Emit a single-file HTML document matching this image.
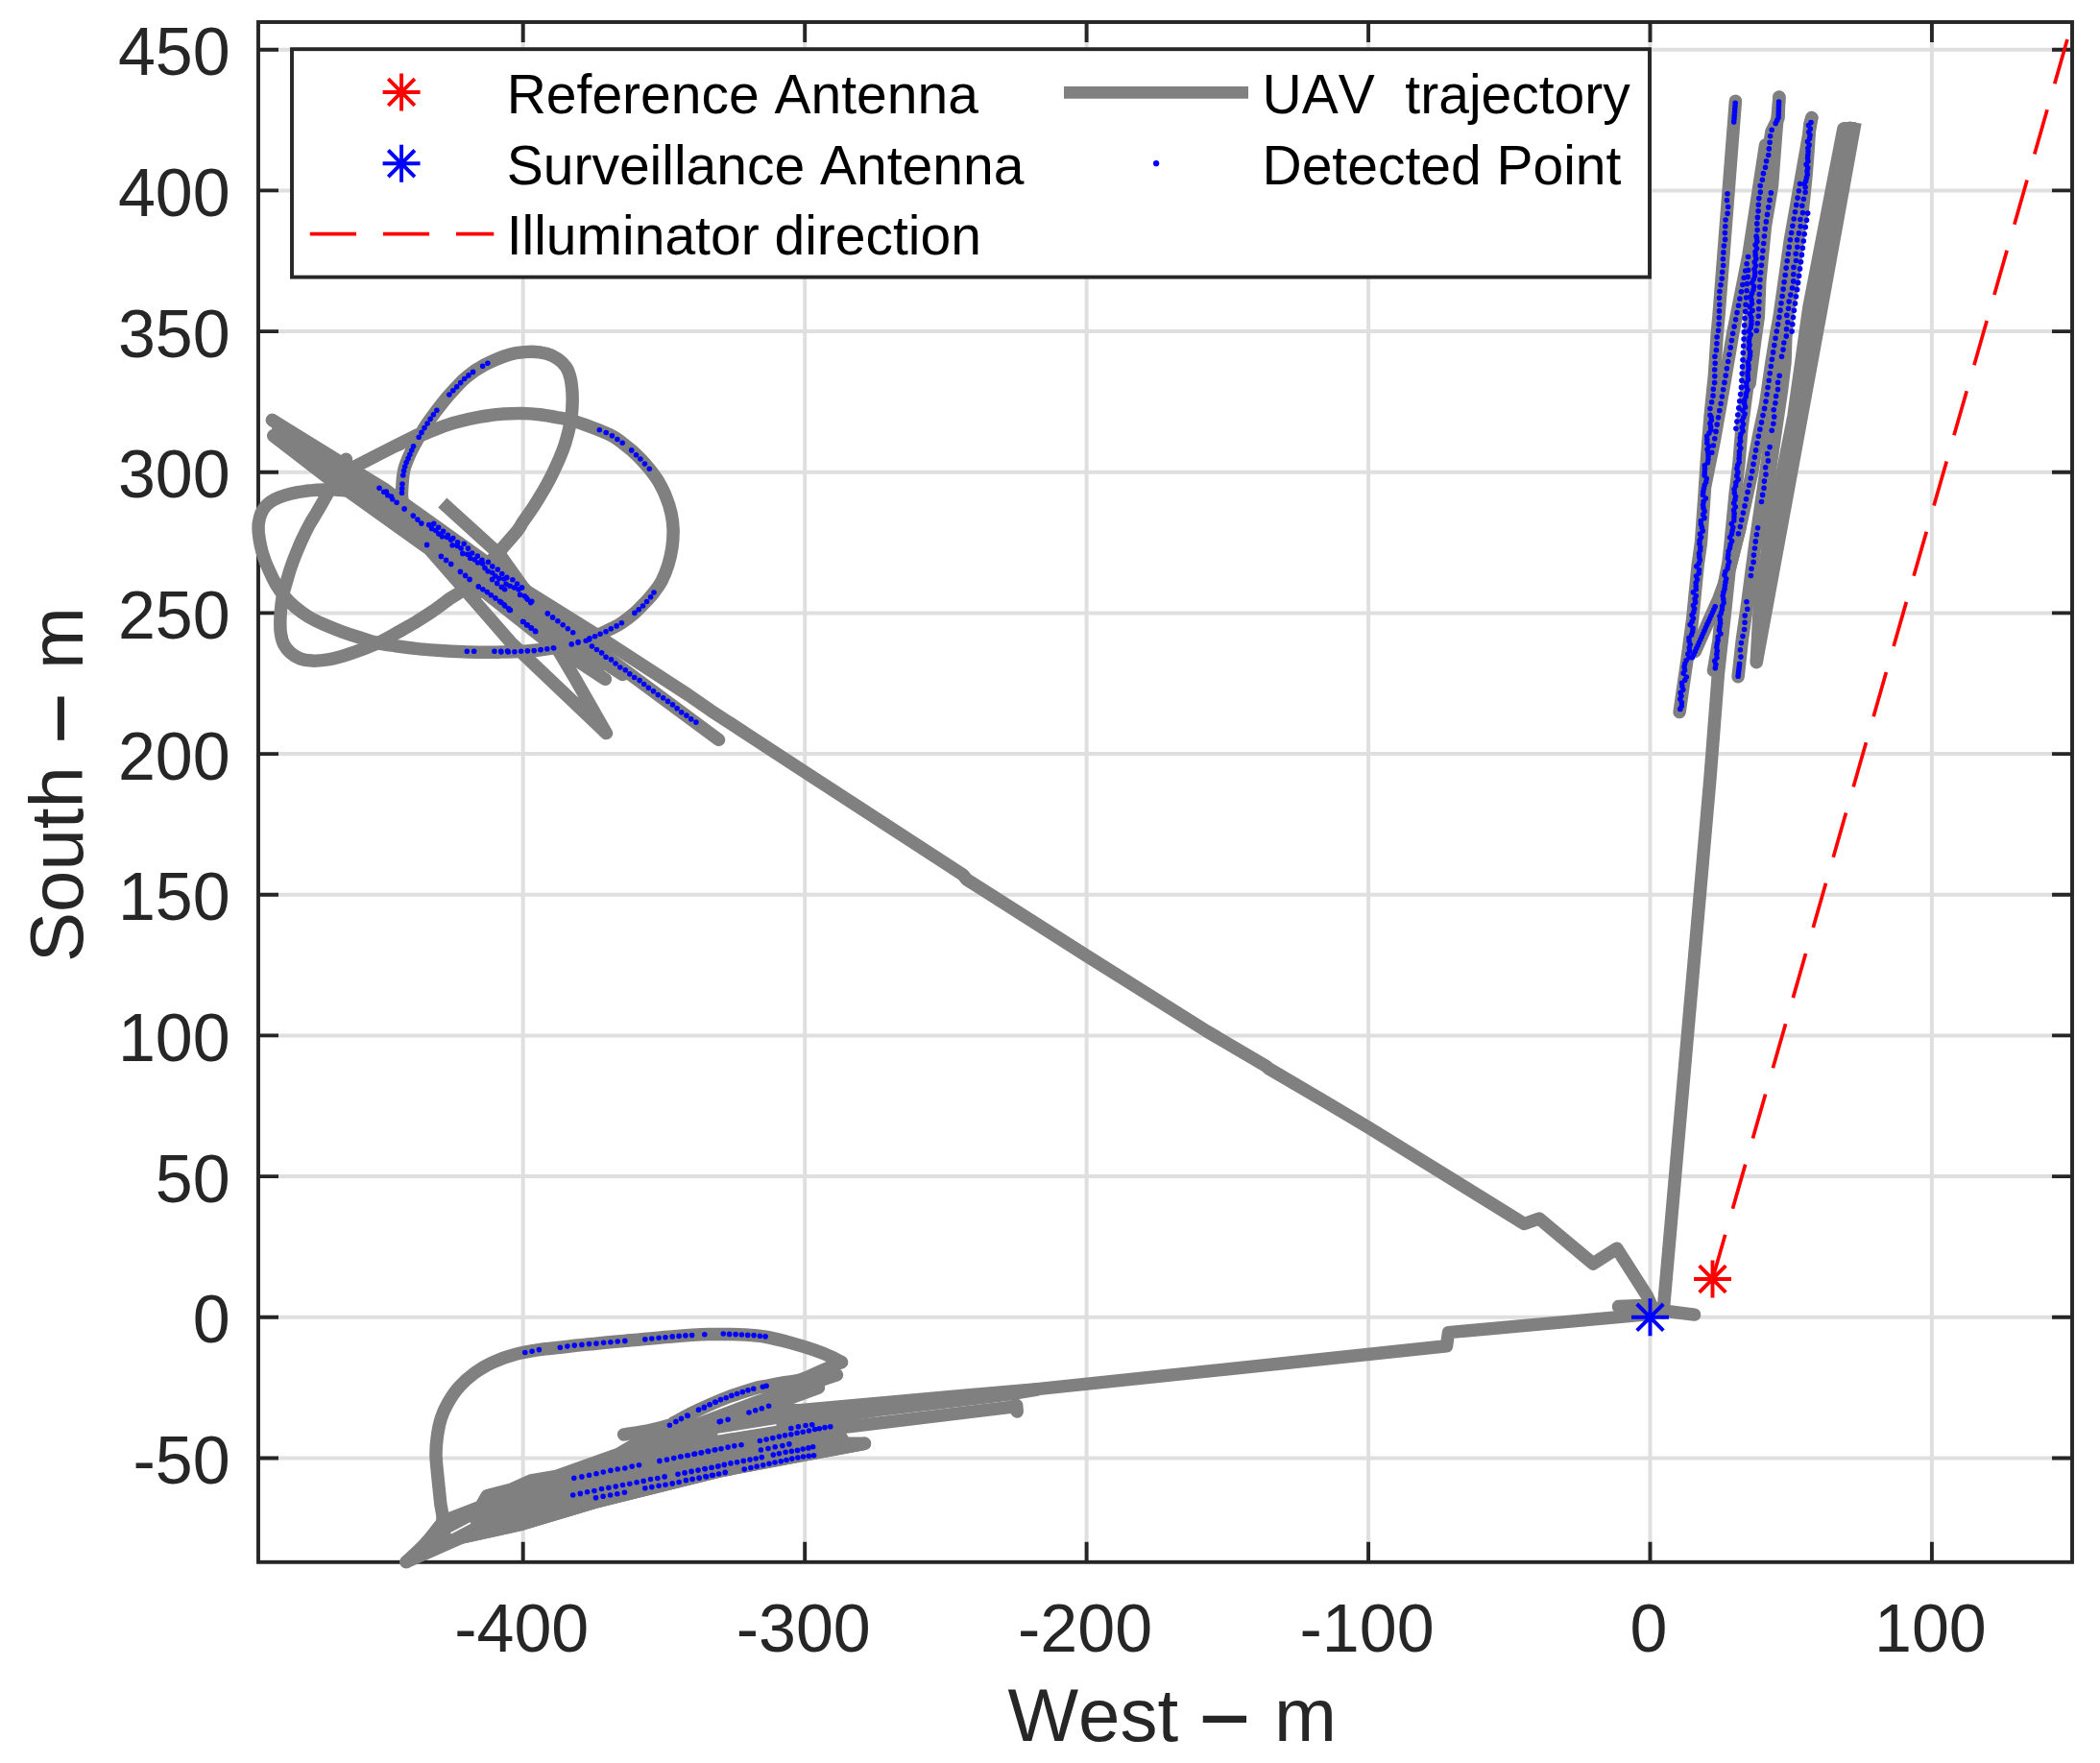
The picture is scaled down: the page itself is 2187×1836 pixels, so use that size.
<!DOCTYPE html>
<html><head><meta charset="utf-8"><title>UAV trajectory</title>
<style>html,body{margin:0;padding:0;background:#fff}svg{display:block}</style></head>
<body>
<svg width="2187" height="1836" viewBox="0 0 2187 1836">
<rect width="2187" height="1836" fill="#fff"/>
<path d="M544.7 23 V1626.8 M838.2 23 V1626.8 M1131.6 23 V1626.8 M1425.1 23 V1626.8 M1718.5 23 V1626.8 M2011.9 23 V1626.8 M269 1518.5 H2158 M269 1371.8 H2158 M269 1225.1 H2158 M269 1078.4 H2158 M269 931.8 H2158 M269 785.1 H2158 M269 638.4 H2158 M269 491.8 H2158 M269 345.1 H2158 M269 198.4 H2158 M269 51.7 H2158" stroke="#dfdfdf" stroke-width="4" fill="none"/>
<path d="M544.7 23 v21 M544.7 1626.8 v-21 M838.2 23 v21 M838.2 1626.8 v-21 M1131.6 23 v21 M1131.6 1626.8 v-21 M1425.1 23 v21 M1425.1 1626.8 v-21 M1718.5 23 v21 M1718.5 1626.8 v-21 M2011.9 23 v21 M2011.9 1626.8 v-21 M269 1518.5 h21 M2158 1518.5 h-21 M269 1371.8 h21 M2158 1371.8 h-21 M269 1225.1 h21 M2158 1225.1 h-21 M269 1078.4 h21 M2158 1078.4 h-21 M269 931.8 h21 M2158 931.8 h-21 M269 785.1 h21 M2158 785.1 h-21 M269 638.4 h21 M2158 638.4 h-21 M269 491.8 h21 M2158 491.8 h-21 M269 345.1 h21 M2158 345.1 h-21 M269 198.4 h21 M2158 198.4 h-21 M269 51.7 h21 M2158 51.7 h-21" stroke="#262626" stroke-width="3.9" fill="none"/>
<rect x="269" y="23" width="1889" height="1603.8" fill="none" stroke="#262626" stroke-width="3.9"/>
<g font-family="'Liberation Sans', sans-serif" font-size="70" fill="#262626" style="font-kerning:none">
<text x="543.2" y="1720" text-anchor="middle">-400</text>
<text x="836.7" y="1720" text-anchor="middle">-300</text>
<text x="1130.1" y="1720" text-anchor="middle">-200</text>
<text x="1423.6" y="1720" text-anchor="middle">-100</text>
<text x="1717" y="1720" text-anchor="middle">0</text>
<text x="2010.4" y="1720" text-anchor="middle">100</text>
<text x="239.7" y="1544.9" text-anchor="end">-50</text>
<text x="239.7" y="1398.2" text-anchor="end">0</text>
<text x="239.7" y="1251.5" text-anchor="end">50</text>
<text x="239.7" y="1104.8" text-anchor="end">100</text>
<text x="239.7" y="958.2" text-anchor="end">150</text>
<text x="239.7" y="811.5" text-anchor="end">200</text>
<text x="239.7" y="664.8" text-anchor="end">250</text>
<text x="239.7" y="518.1" text-anchor="end">300</text>
<text x="239.7" y="371.5" text-anchor="end">350</text>
<text x="239.7" y="224.8" text-anchor="end">400</text>
<text x="239.7" y="78.1" text-anchor="end">450</text>
</g>
<g font-family="'Liberation Sans', sans-serif" font-size="78" fill="#262626" style="font-kerning:none">
<text x="1049.5" y="1813">West<tspan dx="26.5" dy="-2.8" stroke="#262626" stroke-width="1.9">–</tspan><tspan dx="30" dy="2.8">m</tspan></text>
<text transform="translate(86 1002) rotate(-90)">South<tspan dx="28.5" dy="-2.8" stroke="#262626" stroke-width="1.9">–</tspan><tspan dx="29.3" dy="2.8">m</tspan></text>
</g>
<path d="M1783.5 1332 L2153 41" stroke="#ff0000" stroke-width="3.7" stroke-dasharray="48 28.16" fill="none"/>
<g stroke="#808080" stroke-width="13.5" fill="none" stroke-linejoin="round" stroke-linecap="round">
<path d="M362.1 489.7 C365 488.3 372.9 484.4 379.3 481.1 C385.7 477.9 391.4 474.7 400.7 470 C410 465.3 433 453.8 435 452.9 C437 451.9 414.2 463.2 412.5 464.1 C410.8 465.1 420.2 460.5 425 458.5 C429.7 456.6 436 454.4 441.2 452.3 C446.4 450.2 450.5 448.1 456.1 446.1 C461.8 444 467.6 441.8 474.9 439.8 C482.1 437.8 491.5 435.7 499.8 434.2 C508.1 432.7 517.5 431.7 524.8 431.1 C532 430.5 537.2 430.4 543.5 430.5 C549.7 430.6 556 431 562.2 431.7 C568.4 432.4 574.7 433.6 580.9 434.8 C587.2 436 592.6 436.9 599.7 439.1 C606.8 441.2 617.2 445.3 623.5 447.8 C629.9 450.3 633.7 451.9 637.8 454.2 C641.9 456.4 644.9 458.8 648.2 461.3 C651.5 463.8 654.5 466.1 657.7 468.9 C660.9 471.7 664.1 474.8 667.2 478 C670.3 481.2 673.2 484.5 676.3 488.3 C679.3 492.1 682.6 496.3 685.5 501 C688.4 505.8 691.2 511.3 693.4 516.9 C695.7 522.5 697.7 528.6 699 534.4 C700.3 540.2 700.9 545.8 701.1 551.9 C701.2 557.9 700.7 564.8 699.8 570.9 C698.9 577 697.5 582.8 695.8 588.4 C694.1 593.9 691.9 599.5 689.5 604.3 C687 609 684.1 613 681 617 C678 621 674.6 624.5 671.2 628.1 C667.8 631.7 664.8 635 660.9 638.4 C656.9 641.9 651.5 646 647.4 648.8 C643.3 651.5 640 652.9 636.3 654.8 C632.5 656.7 628.8 658.3 625.1 660.2 C621.4 662 617.9 664.5 614 665.9 C610.2 667.3 605.3 667.8 602.1 668.6 C598.9 669.5 599.2 670 594.9 671 C590.7 672 581.8 673.8 576.4 674.8 C571.1 675.7 567.4 676.2 562.9 676.7 C558.4 677.2 553.9 677.5 549.4 677.9 C544.9 678.2 540.5 678.6 535.9 678.8 C531.3 679 526.2 678.9 521.9 679 C517.6 679.1 515.8 679.3 510 679.3 C504.2 679.3 495.1 679.2 487.1 679 C479.1 678.8 470.4 678.3 462.1 677.8 C453.8 677.3 445.5 676.7 437.1 675.9 C428.8 675 419.5 673.8 412.2 672.8 C404.9 671.7 399.7 671.1 393.5 669.6 C387.2 668.2 381 666 374.8 664 C368.5 662.1 362.3 660.1 356.1 657.8 C349.8 655.5 343.2 652.9 337.3 650.3 C331.5 647.7 326.1 645.2 321.1 642.2 C316.1 639.2 311.6 635.7 307.4 632.2 C303.2 628.7 299.5 624.9 296.2 621 C292.8 617 290 612.9 287.4 608.5 C284.8 604.1 282.6 599.4 280.6 594.8 C278.5 590.2 276.5 585.6 275 581.1 C273.4 576.5 272.1 571.7 271.2 567.3 C270.3 563 269.7 558.6 269.3 554.9 C269 551.1 268.9 548.2 269.3 544.9 C269.8 541.6 270.5 538 271.8 534.9 C273.2 531.8 275.1 528.7 277.4 526.2 C279.8 523.7 282.9 521.7 286.2 519.9 C289.5 518.2 293.5 516.8 297.4 515.6 C301.4 514.4 305.3 513.5 309.9 512.7 C314.5 511.9 320.3 511 324.9 510.6 C329.4 510.1 333.2 510 337.3 509.9 C341.5 509.8 345.7 509.7 349.8 509.9 C354 510.2 360.2 511 362.3 511.2"/>
<path d="M418.7 520.9 C418.7 519.7 418.4 516.2 418.5 513.4 C418.5 510.6 418.8 507 419 504.1 C419.2 501.2 419.3 498.7 419.7 496 C420.1 493.3 420.4 490.7 421.2 487.8 C422 485 423.1 482.1 424.3 479.1 C425.5 476.1 426.5 473.6 428.4 469.8 C430.4 465.9 433.6 459.9 435.8 456 C438 452.1 439.6 449.5 441.5 446.3 C443.5 443.1 445.4 440.2 447.7 437.1 C449.9 433.9 451.9 431.3 454.9 427.3 C457.9 423.4 462.6 417.3 465.9 413.4 C469.1 409.5 471.6 407 474.5 403.9 C477.4 400.8 480.2 397.6 483.2 394.9 C486.2 392.2 489.4 389.7 492.6 387.4 C495.8 385.1 500 382.7 502.6 381.2 C505.1 379.7 504.2 380 507.9 378.3 C511.6 376.6 519.9 373 524.8 371.2 C529.7 369.4 532.3 368.5 537.2 367.7 C542.2 366.9 549.5 366.1 554.7 366.2 C559.9 366.3 564.1 366.8 568.4 368.1 C572.8 369.3 577.4 371.3 580.9 373.7 C584.4 376.1 587.5 379.1 589.6 382.4 C591.8 385.7 593 389.5 594 393.6 C595.1 397.8 595.5 403 595.9 407.4 C596.2 411.7 596.2 415.7 596.1 419.9 C596 424 595.8 428 595.3 432.3 C594.7 436.7 593.9 441.1 592.8 446.1 C591.6 451 590.1 457.1 588.4 462.3 C586.7 467.5 585.1 471.8 582.8 477.2 C580.5 482.6 577.5 489.1 574.7 494.7 C571.9 500.3 569.1 505.5 565.9 510.9 C562.8 516.3 559.5 521.7 556 527.1 C552.4 532.6 548.4 538.2 544.7 543.4 C541.1 548.6 543.7 547.3 534.1 558.3 C524.5 569.4 498 598.9 487.1 609.8 C476.1 620.6 474.6 618.9 468.3 623.5 C462.1 628.1 455.9 632.9 449.6 637.2 C443.4 641.5 437.1 645.3 430.9 649.1 C424.7 652.8 418.4 656.2 412.2 659.7 C406 663.1 399.7 666.7 393.5 669.6 C387.2 672.6 381 674.8 374.8 677.1 C368.5 679.4 361.9 681.7 356.1 683.4 C350.2 685 345 686.3 339.8 687.1 C334.6 687.9 329.4 688.3 324.9 688.1 C320.3 687.9 316.1 687.3 312.4 685.9 C308.6 684.4 305.2 682.1 302.4 679.6 C299.6 677.1 297.2 674.2 295.5 670.9 C293.9 667.6 293 663.4 292.4 659.7 C291.8 655.9 291.8 652.4 291.8 648.4 C291.8 644.5 292 640.5 292.4 636 C292.8 631.4 293.4 625.8 294.3 621 C295.2 616.2 296.7 612 298 607.3 C299.4 602.5 300.7 597.3 302.4 592.3 C304.1 587.3 305.9 582.5 308 577.3 C310.1 572.1 312.5 566.3 314.9 561.1 C317.3 555.9 319.9 550.7 322.4 546.1 C324.9 541.6 327 538.5 329.9 533.6 C332.7 528.8 334.3 526.4 339.4 517.1 C344.5 507.9 356.9 484.7 360.4 478.2"/>
<path d="M283.5 437.5 L349.9 482.3 L413.1 523.2 L553.7 626.3 L748.5 770.4"/>
<path d="M283.5 437.5 L349.9 478.5 L400 509 L425 527.5 L508 586.5 L548.6 615.8 L618.3 659.2 L633.2 669.3 L716.5 723.5 L740 739.8 L837.7 803.7 L1003 911.2 L1006.5 915.7 L1131.9 995.5 L1256.7 1073.9 L1318.5 1110.3 L1321 1112.6 L1380 1147.3 L1424.9 1174 L1587.4 1274.5 L1602.9 1269 L1659.1 1316 L1683.8 1300.2 L1715.4 1349.7 L1721 1362"/>
<path d="M284.7 453.8 L341.2 497.3 L363.7 512.2 L416.1 549.7 L447.3 572.1 L531.8 668.8 L545.3 681.7 L631.4 763.5 L598.6 706.1 L581.7 677.9 L560 640"/>
<path d="M330 484 L420 547 L459.4 579.4 L509.7 620.6 L564 663.5 L630.4 707.3"/>
<path d="M590 660 L616.4 681.7 L648.5 702.5"/>
<path d="M460.8 523.5 L521.1 578.3 L544.6 611.4 L552 620" stroke-linecap="butt"/>
<path d="M283.5 437.5 L349.9 478.5 L400 509 L425 527.5 L508 586.5 L548.6 615.8 L618.3 659.2 L630.4 707.3 L564 663.5 L509.7 620.6 L500 622 L447.3 572.1 L416.1 549.7 L363.7 512.2 L341.2 497.3 L284.7 453.8Z" fill="#808080" stroke-width="2"/>
<path d="M1685.5 1360.6 L1712 1359.5 L1737.7 1365.7 L1764.6 1369.1"/>
<path d="M757 1478.5 L829.5 1469 L1080 1446.6 L1424.1 1410.5 L1506.5 1401.8 L1508.5 1387.6 L1677.1 1372.4 L1718 1368.5"/>
<path d="M800 1482 L829.5 1478.5 L880 1473.5 L917 1468 L1050 1452.1 L1080 1447"/>
<path d="M1732.2 1367 L1733.2 1354 L1781 810 L1789.4 701.8 L1797.2 630.9 L1801 594 L1812.3 548.4"/>
<path d="M1807.4 105.2 L1789.9 330 L1788.2 348.4 L1785.4 390.9 L1781.1 433.5 L1777.6 476 L1774.8 518.6 L1771.5 565 L1768.2 588.4 L1762.6 645.1 L1756.9 687.7 L1749.1 741.6"/>
<path d="M1838.6 150.9 L1820.9 265.8 L1809.5 323.3 L1805 345.5 L1796 398 L1785.4 458.3 L1776 505"/>
<path d="M1852.8 101 L1852.1 122.6 L1845 136.7 L1839.3 170.8 L1833.6 193.5 L1830.8 221.8 L1827.9 265.1 L1824.4 312.6 L1823 333.5 L1821.6 362.6 L1819.4 405.1 L1813.8 447.7 L1810.9 483.1 L1807.4 511.5 L1804.5 541.3 L1801.7 570.1 L1799.9 586.1 L1796.2 604.8 L1793.7 627.3 L1789.9 667.2 L1784.5 698.3"/>
<path d="M1853 101.3 L1849.8 136.7 L1845.5 193.5 L1838.4 236 L1832.8 292.8 L1831.3 330 L1827.7 354.8 L1822 400"/>
<path d="M1886.8 122.6 L1874.3 193.5 L1864.3 250.2 L1853 330 L1849.9 347 L1845 376.7 L1840.7 406.5 L1838.6 420.7 L1832.2 450.5 L1827.9 472.5 L1824.4 493 L1819.4 515.7 L1812.3 548.4 L1801.2 592.3 L1789.9 623.5 L1765.3 678.4"/>
<path d="M1886.8 122.6 L1884.7 129.6 L1883.3 153.8 L1881.1 182.1 L1877.6 216.2 L1873.3 242.4 L1869.8 270.1 L1866.2 297 L1862 325.5 L1859.9 347 L1855.6 377.4 L1851.3 406.5 L1844.3 451.9 L1839.3 488.8 L1833.6 527.8 L1827.9 566 L1825 588.4 L1820 626.7 L1814.3 666.4 L1810.1 704.7"/>
<path d="M1859.9 347 L1859 377.4 L1855.5 406.5 L1848.8 451.9 L1843.5 488.8 L1837 527.8 L1829 566"/>
<path d="M1919.9 134 L1883.9 320 L1867.9 433.5 L1841 570 L1833 620 L1829.2 689.8"/>
<path d="M1932 127.5 L1897.1 320 L1851.2 570 L1829.2 689.8" stroke-linecap="butt"/>
<path d="M1919.9 128 L1932 128 L1931 140 L1919 140Z" fill="#808080" stroke-width="2"/>
<path d="M423 1626.6 C426.2 1623.5 436.2 1614.6 442.4 1608 C448.6 1601.4 457.5 1594.3 460.2 1587 C462.9 1579.7 459.2 1572.1 458.6 1564.3 C457.9 1556.5 456.9 1548.1 456.1 1540 C455.4 1531.9 454.2 1523 454 1515.7 C453.9 1508.4 454.4 1502.8 455.3 1496.3 C456.2 1489.8 457.5 1482.8 459.4 1476.9 C461.3 1470.9 463.6 1466.1 466.7 1460.7 C469.8 1455.3 473.4 1449.6 478 1444.5 C482.6 1439.4 488.3 1434.2 494.2 1429.9 C500.1 1425.6 506.6 1421.8 513.6 1418.6 C520.6 1415.3 528.3 1412.6 536.3 1410.5 C544.3 1408.3 553.6 1406.8 561.4 1405.6 C569.2 1404.4 574.8 1404.1 583.3 1403.2 C591.8 1402.2 601.2 1401.1 612.4 1400 C623.6 1398.8 635.9 1397.7 650.4 1396.4 C665 1395 685.2 1393 699.8 1391.9 C714.4 1390.7 725.4 1389.9 738.1 1389.6 C750.8 1389.3 766 1389.5 776.2 1390 C786.3 1390.5 791.1 1391 799 1392.5 C807 1393.9 815.6 1396.3 823.8 1398.6 C832.1 1400.9 841.3 1403.7 848.6 1406.2 C855.9 1408.7 863 1411.7 867.6 1413.8 C872.3 1415.9 874.9 1417.8 876.4 1418.6"/>
<path d="M876.4 1418.6 C872.4 1420.3 859.6 1426 852.4 1429 C845.2 1432.1 839.7 1435.2 833.3 1437 C827 1438.9 820.2 1439 814.3 1440.1 C808.4 1441.1 803 1442.3 798.1 1443.3 C793.2 1444.3 791.7 1444.1 784.8 1446.2 C777.8 1448.3 765.7 1452.1 756.2 1455.7 C746.7 1459.4 737 1463.7 727.6 1468.1 C718.3 1472.5 700 1482.3 700 1482.4 C700 1482.4 724.7 1469.7 727.4 1468.3 C730 1466.9 719.6 1472.1 715.7 1474.1 C711.8 1476.2 706.9 1478.9 703.9 1480.6 C700.8 1482.3 701.9 1482.7 697.4 1484.2 C693 1485.6 685.1 1487.7 677.2 1489.3 C669.2 1491 654.2 1493.1 649.6 1493.9"/>
<path d="M871.4 1431.9 L842.9 1441.4 L814.3 1451 L790.5 1459.3 L724.8 1484.1 L700 1493.8"/>
<path d="M852.4 1445.2 L823.8 1455.7 L800.6 1464.3 L780 1471 L750.5 1480.1 L719 1490 L700 1496.7"/>
<path d="M790 1497 L887.6 1485.4 L1052.4 1465.4 L1058.7 1463.5 L1059.2 1470"/>
<path d="M423 1626.6 L481.3 1600.9 L543.6 1587.1 L618.9 1564.5 L748.4 1532.1 L831.9 1516.1 L900.4 1503.3"/>
<path d="M462 1584 L500.7 1569 L507.1 1557.8 L533 1551 L553 1542 L579.5 1537.4 L644.8 1514.1 L659.4 1505.2 L700 1489 L750.5 1480.1 L780 1471 L800.6 1464.3 L829.5 1469 L870 1487.5 L880 1503.3 L900.4 1503.3 L831.9 1516.1 L748.4 1532.1 L618.9 1564.5 L543.6 1587.1 L481.3 1600.9 L440 1612Z" fill="#808080"/>
</g>
<path d="M470 1596.5 L489.5 1586.3" stroke="#fff" stroke-width="1.6" fill="none" stroke-linecap="round"/>
<path d="M748 1493.6 L808 1484" stroke="#fff" stroke-width="1.6" fill="none" stroke-linecap="round"/>
<g fill="#0000ff">
<path d="M507.9 378.3m-2.8 0a2.8 2.8 0 1 0 5.6 0a2.8 2.8 0 1 0-5.6 0M502.6 381.2m-2.8 0a2.8 2.8 0 1 0 5.6 0a2.8 2.8 0 1 0-5.6 0M492.6 387.4m-2.8 0a2.8 2.8 0 1 0 5.6 0a2.8 2.8 0 1 0-5.6 0M488 390.9m-2.8 0a2.8 2.8 0 1 0 5.6 0a2.8 2.8 0 1 0-5.6 0M483.7 394.5m-2.8 0a2.8 2.8 0 1 0 5.6 0a2.8 2.8 0 1 0-5.6 0M479.7 398.6m-2.8 0a2.8 2.8 0 1 0 5.6 0a2.8 2.8 0 1 0-5.6 0M475.7 402.7m-2.8 0a2.8 2.8 0 1 0 5.6 0a2.8 2.8 0 1 0-5.6 0M471.8 406.8m-2.8 0a2.8 2.8 0 1 0 5.6 0a2.8 2.8 0 1 0-5.6 0M467.9 411m-2.8 0a2.8 2.8 0 1 0 5.6 0a2.8 2.8 0 1 0-5.6 0M454.9 427.3m-2.8 0a2.8 2.8 0 1 0 5.6 0a2.8 2.8 0 1 0-5.6 0M451.4 431.7m-2.8 0a2.8 2.8 0 1 0 5.6 0a2.8 2.8 0 1 0-5.6 0M448.2 436.3m-2.8 0a2.8 2.8 0 1 0 5.6 0a2.8 2.8 0 1 0-5.6 0M445.1 441m-2.8 0a2.8 2.8 0 1 0 5.6 0a2.8 2.8 0 1 0-5.6 0M442 445.6m-2.8 0a2.8 2.8 0 1 0 5.6 0a2.8 2.8 0 1 0-5.6 0M439 450.4m-2.8 0a2.8 2.8 0 1 0 5.6 0a2.8 2.8 0 1 0-5.6 0M436.2 455.2m-2.8 0a2.8 2.8 0 1 0 5.6 0a2.8 2.8 0 1 0-5.6 0M430.6 464.8m-2.8 0a2.8 2.8 0 1 0 5.6 0a2.8 2.8 0 1 0-5.6 0M428.8 469m-2.8 0a2.8 2.8 0 1 0 5.6 0a2.8 2.8 0 1 0-5.6 0M426.9 473.2m-2.8 0a2.8 2.8 0 1 0 5.6 0a2.8 2.8 0 1 0-5.6 0M425.1 477.4m-2.8 0a2.8 2.8 0 1 0 5.6 0a2.8 2.8 0 1 0-5.6 0M423.2 481.6m-2.8 0a2.8 2.8 0 1 0 5.6 0a2.8 2.8 0 1 0-5.6 0M421.7 486m-2.8 0a2.8 2.8 0 1 0 5.6 0a2.8 2.8 0 1 0-5.6 0M420.6 490.4m-2.8 0a2.8 2.8 0 1 0 5.6 0a2.8 2.8 0 1 0-5.6 0M419.8 495m-2.8 0a2.8 2.8 0 1 0 5.6 0a2.8 2.8 0 1 0-5.6 0M419 504.1m-2.8 0a2.8 2.8 0 1 0 5.6 0a2.8 2.8 0 1 0-5.6 0M418.7 508.7m-2.8 0a2.8 2.8 0 1 0 5.6 0a2.8 2.8 0 1 0-5.6 0M418.5 513.3m-2.8 0a2.8 2.8 0 1 0 5.6 0a2.8 2.8 0 1 0-5.6 0M395 508.2m-2.8 0a2.8 2.8 0 1 0 5.6 0a2.8 2.8 0 1 0-5.6 0M399.7 512.3m-2.8 0a2.8 2.8 0 1 0 5.6 0a2.8 2.8 0 1 0-5.6 0M403.8 515.7m-2.8 0a2.8 2.8 0 1 0 5.6 0a2.8 2.8 0 1 0-5.6 0M408.6 519.8m-2.8 0a2.8 2.8 0 1 0 5.6 0a2.8 2.8 0 1 0-5.6 0M624.3 447.8m-2.8 0a2.8 2.8 0 1 0 5.6 0a2.8 2.8 0 1 0-5.6 0M631.2 450.5m-2.8 0a2.8 2.8 0 1 0 5.6 0a2.8 2.8 0 1 0-5.6 0M637.4 453.8m-2.8 0a2.8 2.8 0 1 0 5.6 0a2.8 2.8 0 1 0-5.6 0M642.9 457.5m-2.8 0a2.8 2.8 0 1 0 5.6 0a2.8 2.8 0 1 0-5.6 0M648.2 461.3m-2.8 0a2.8 2.8 0 1 0 5.6 0a2.8 2.8 0 1 0-5.6 0M657.7 468.9m-2.8 0a2.8 2.8 0 1 0 5.6 0a2.8 2.8 0 1 0-5.6 0M662.5 473.7m-2.8 0a2.8 2.8 0 1 0 5.6 0a2.8 2.8 0 1 0-5.6 0M666.9 478m-2.8 0a2.8 2.8 0 1 0 5.6 0a2.8 2.8 0 1 0-5.6 0M671.5 483.1m-2.8 0a2.8 2.8 0 1 0 5.6 0a2.8 2.8 0 1 0-5.6 0M676.3 488.3m-2.8 0a2.8 2.8 0 1 0 5.6 0a2.8 2.8 0 1 0-5.6 0M681 617m-2.8 0a2.8 2.8 0 1 0 5.6 0a2.8 2.8 0 1 0-5.6 0M677.6 621.7m-2.8 0a2.8 2.8 0 1 0 5.6 0a2.8 2.8 0 1 0-5.6 0M673.6 626.5m-2.8 0a2.8 2.8 0 1 0 5.6 0a2.8 2.8 0 1 0-5.6 0M669.6 631m-2.8 0a2.8 2.8 0 1 0 5.6 0a2.8 2.8 0 1 0-5.6 0M665.2 634.8m-2.8 0a2.8 2.8 0 1 0 5.6 0a2.8 2.8 0 1 0-5.6 0M660.9 638.4m-2.8 0a2.8 2.8 0 1 0 5.6 0a2.8 2.8 0 1 0-5.6 0M647.4 648.8m-2.8 0a2.8 2.8 0 1 0 5.6 0a2.8 2.8 0 1 0-5.6 0M642.1 651.9m-2.8 0a2.8 2.8 0 1 0 5.6 0a2.8 2.8 0 1 0-5.6 0M636.3 654.8m-2.8 0a2.8 2.8 0 1 0 5.6 0a2.8 2.8 0 1 0-5.6 0M631 657.8m-2.8 0a2.8 2.8 0 1 0 5.6 0a2.8 2.8 0 1 0-5.6 0M625.1 660.2m-2.8 0a2.8 2.8 0 1 0 5.6 0a2.8 2.8 0 1 0-5.6 0M619.6 662.7m-2.8 0a2.8 2.8 0 1 0 5.6 0a2.8 2.8 0 1 0-5.6 0M613.7 665.9m-2.8 0a2.8 2.8 0 1 0 5.6 0a2.8 2.8 0 1 0-5.6 0M602.1 668.6m-2.8 0a2.8 2.8 0 1 0 5.6 0a2.8 2.8 0 1 0-5.6 0M595.3 671m-2.8 0a2.8 2.8 0 1 0 5.6 0a2.8 2.8 0 1 0-5.6 0M576.7 675m-2.8 0a2.8 2.8 0 1 0 5.6 0a2.8 2.8 0 1 0-5.6 0M569.8 675.8m-2.8 0a2.8 2.8 0 1 0 5.6 0a2.8 2.8 0 1 0-5.6 0M563.2 676.6m-2.8 0a2.8 2.8 0 1 0 5.6 0a2.8 2.8 0 1 0-5.6 0M521.9 679m-2.8 0a2.8 2.8 0 1 0 5.6 0a2.8 2.8 0 1 0-5.6 0M529.2 679m-2.8 0a2.8 2.8 0 1 0 5.6 0a2.8 2.8 0 1 0-5.6 0M535.9 678.8m-2.8 0a2.8 2.8 0 1 0 5.6 0a2.8 2.8 0 1 0-5.6 0M542.7 678.3m-2.8 0a2.8 2.8 0 1 0 5.6 0a2.8 2.8 0 1 0-5.6 0M549.4 677.9m-2.8 0a2.8 2.8 0 1 0 5.6 0a2.8 2.8 0 1 0-5.6 0M556.2 677.6m-2.8 0a2.8 2.8 0 1 0 5.6 0a2.8 2.8 0 1 0-5.6 0M562.9 676.7m-2.8 0a2.8 2.8 0 1 0 5.6 0a2.8 2.8 0 1 0-5.6 0M569.7 675.7m-2.8 0a2.8 2.8 0 1 0 5.6 0a2.8 2.8 0 1 0-5.6 0M576.4 674.8m-2.8 0a2.8 2.8 0 1 0 5.6 0a2.8 2.8 0 1 0-5.6 0M595.2 670.9m-2.8 0a2.8 2.8 0 1 0 5.6 0a2.8 2.8 0 1 0-5.6 0M602 669.2m-2.8 0a2.8 2.8 0 1 0 5.6 0a2.8 2.8 0 1 0-5.6 0M610.2 667.3m-2.8 0a2.8 2.8 0 1 0 5.6 0a2.8 2.8 0 1 0-5.6 0M614 664.8m-2.8 0a2.8 2.8 0 1 0 5.6 0a2.8 2.8 0 1 0-5.6 0M548 622.4m-2.8 0a2.8 2.8 0 1 0 5.6 0a2.8 2.8 0 1 0-5.6 0M553.8 626.3m-2.8 0a2.8 2.8 0 1 0 5.6 0a2.8 2.8 0 1 0-5.6 0M521.9 627.2m-2.8 0a2.8 2.8 0 1 0 5.6 0a2.8 2.8 0 1 0-5.6 0M525.8 631.1m-2.8 0a2.8 2.8 0 1 0 5.6 0a2.8 2.8 0 1 0-5.6 0M530.6 635.4m-2.8 0a2.8 2.8 0 1 0 5.6 0a2.8 2.8 0 1 0-5.6 0M545.1 647.5m-2.8 0a2.8 2.8 0 1 0 5.6 0a2.8 2.8 0 1 0-5.6 0M549.4 650.9m-2.8 0a2.8 2.8 0 1 0 5.6 0a2.8 2.8 0 1 0-5.6 0M553.3 653.8m-2.8 0a2.8 2.8 0 1 0 5.6 0a2.8 2.8 0 1 0-5.6 0M557.4 657.1m-2.8 0a2.8 2.8 0 1 0 5.6 0a2.8 2.8 0 1 0-5.6 0M486.3 678.3m-2.8 0a2.8 2.8 0 1 0 5.6 0a2.8 2.8 0 1 0-5.6 0M493.7 678.3m-2.8 0a2.8 2.8 0 1 0 5.6 0a2.8 2.8 0 1 0-5.6 0M514.9 678.3m-2.8 0a2.8 2.8 0 1 0 5.6 0a2.8 2.8 0 1 0-5.6 0M521.7 678.3m-2.8 0a2.8 2.8 0 1 0 5.6 0a2.8 2.8 0 1 0-5.6 0M528.6 678.1m-2.8 0a2.8 2.8 0 1 0 5.6 0a2.8 2.8 0 1 0-5.6 0M402.3 512m-2.8 0a2.8 2.8 0 1 0 5.6 0a2.8 2.8 0 1 0-5.6 0M407.4 517.1m-2.8 0a2.8 2.8 0 1 0 5.6 0a2.8 2.8 0 1 0-5.6 0M413.1 523.2m-2.8 0a2.8 2.8 0 1 0 5.6 0a2.8 2.8 0 1 0-5.6 0M421.1 529.9m-2.8 0a2.8 2.8 0 1 0 5.6 0a2.8 2.8 0 1 0-5.6 0M430.3 537.1m-2.8 0a2.8 2.8 0 1 0 5.6 0a2.8 2.8 0 1 0-5.6 0M434.9 541.1m-2.8 0a2.8 2.8 0 1 0 5.6 0a2.8 2.8 0 1 0-5.6 0M438.9 545.1m-2.8 0a2.8 2.8 0 1 0 5.6 0a2.8 2.8 0 1 0-5.6 0M459.4 579.4m-2.8 0a2.8 2.8 0 1 0 5.6 0a2.8 2.8 0 1 0-5.6 0M464.6 583.4m-2.8 0a2.8 2.8 0 1 0 5.6 0a2.8 2.8 0 1 0-5.6 0M469.7 587.4m-2.8 0a2.8 2.8 0 1 0 5.6 0a2.8 2.8 0 1 0-5.6 0M479.4 595.4m-2.8 0a2.8 2.8 0 1 0 5.6 0a2.8 2.8 0 1 0-5.6 0M484.6 599.4m-2.8 0a2.8 2.8 0 1 0 5.6 0a2.8 2.8 0 1 0-5.6 0M489.1 603.4m-2.8 0a2.8 2.8 0 1 0 5.6 0a2.8 2.8 0 1 0-5.6 0M498.3 610.9m-2.8 0a2.8 2.8 0 1 0 5.6 0a2.8 2.8 0 1 0-5.6 0M502.9 613.7m-2.8 0a2.8 2.8 0 1 0 5.6 0a2.8 2.8 0 1 0-5.6 0M507.4 616.6m-2.8 0a2.8 2.8 0 1 0 5.6 0a2.8 2.8 0 1 0-5.6 0M511.4 619.7m-2.8 0a2.8 2.8 0 1 0 5.6 0a2.8 2.8 0 1 0-5.6 0M516 622.9m-2.8 0a2.8 2.8 0 1 0 5.6 0a2.8 2.8 0 1 0-5.6 0M520.6 626.3m-2.8 0a2.8 2.8 0 1 0 5.6 0a2.8 2.8 0 1 0-5.6 0M525.1 629.7m-2.8 0a2.8 2.8 0 1 0 5.6 0a2.8 2.8 0 1 0-5.6 0M529.7 633.7m-2.8 0a2.8 2.8 0 1 0 5.6 0a2.8 2.8 0 1 0-5.6 0M531.4 635.4m-2.8 0a2.8 2.8 0 1 0 5.6 0a2.8 2.8 0 1 0-5.6 0M544.6 647.4m-2.8 0a2.8 2.8 0 1 0 5.6 0a2.8 2.8 0 1 0-5.6 0M548.6 650.9m-2.8 0a2.8 2.8 0 1 0 5.6 0a2.8 2.8 0 1 0-5.6 0M553.1 654.3m-2.8 0a2.8 2.8 0 1 0 5.6 0a2.8 2.8 0 1 0-5.6 0M557.7 657.7m-2.8 0a2.8 2.8 0 1 0 5.6 0a2.8 2.8 0 1 0-5.6 0M512.6 603.4m-2.8 0a2.8 2.8 0 1 0 5.6 0a2.8 2.8 0 1 0-5.6 0M517.7 607.4m-2.8 0a2.8 2.8 0 1 0 5.6 0a2.8 2.8 0 1 0-5.6 0M522.3 611.4m-2.8 0a2.8 2.8 0 1 0 5.6 0a2.8 2.8 0 1 0-5.6 0M525.7 613.7m-2.8 0a2.8 2.8 0 1 0 5.6 0a2.8 2.8 0 1 0-5.6 0M444.6 567.4m-2.8 0a2.8 2.8 0 1 0 5.6 0a2.8 2.8 0 1 0-5.6 0M446.7 546.6m-2.8 0a2.8 2.8 0 1 0 5.6 0a2.8 2.8 0 1 0-5.6 0M449.6 550.4m-2.8 0a2.8 2.8 0 1 0 5.6 0a2.8 2.8 0 1 0-5.6 0M453.8 552.5m-2.8 0a2.8 2.8 0 1 0 5.6 0a2.8 2.8 0 1 0-5.6 0M456.9 556m-2.8 0a2.8 2.8 0 1 0 5.6 0a2.8 2.8 0 1 0-5.6 0M460.5 558.8m-2.8 0a2.8 2.8 0 1 0 5.6 0a2.8 2.8 0 1 0-5.6 0M465.7 559.5m-2.8 0a2.8 2.8 0 1 0 5.6 0a2.8 2.8 0 1 0-5.6 0M469.5 562.1m-2.8 0a2.8 2.8 0 1 0 5.6 0a2.8 2.8 0 1 0-5.6 0M471.1 567.7m-2.8 0a2.8 2.8 0 1 0 5.6 0a2.8 2.8 0 1 0-5.6 0M476.3 568.4m-2.8 0a2.8 2.8 0 1 0 5.6 0a2.8 2.8 0 1 0-5.6 0M480.1 571m-2.8 0a2.8 2.8 0 1 0 5.6 0a2.8 2.8 0 1 0-5.6 0M481.8 576.4m-2.8 0a2.8 2.8 0 1 0 5.6 0a2.8 2.8 0 1 0-5.6 0M486.9 577.3m-2.8 0a2.8 2.8 0 1 0 5.6 0a2.8 2.8 0 1 0-5.6 0M489.7 581.3m-2.8 0a2.8 2.8 0 1 0 5.6 0a2.8 2.8 0 1 0-5.6 0M494.3 582.7m-2.8 0a2.8 2.8 0 1 0 5.6 0a2.8 2.8 0 1 0-5.6 0M497.6 586m-2.8 0a2.8 2.8 0 1 0 5.6 0a2.8 2.8 0 1 0-5.6 0M502.6 587m-2.8 0a2.8 2.8 0 1 0 5.6 0a2.8 2.8 0 1 0-5.6 0M505 591.4m-2.8 0a2.8 2.8 0 1 0 5.6 0a2.8 2.8 0 1 0-5.6 0M508.2 595m-2.8 0a2.8 2.8 0 1 0 5.6 0a2.8 2.8 0 1 0-5.6 0M512.8 596.5m-2.8 0a2.8 2.8 0 1 0 5.6 0a2.8 2.8 0 1 0-5.6 0M515.9 600m-2.8 0a2.8 2.8 0 1 0 5.6 0a2.8 2.8 0 1 0-5.6 0M519.8 602.4m-2.8 0a2.8 2.8 0 1 0 5.6 0a2.8 2.8 0 1 0-5.6 0M525.1 603m-2.8 0a2.8 2.8 0 1 0 5.6 0a2.8 2.8 0 1 0-5.6 0M527 608.2m-2.8 0a2.8 2.8 0 1 0 5.6 0a2.8 2.8 0 1 0-5.6 0M531.1 610.3m-2.8 0a2.8 2.8 0 1 0 5.6 0a2.8 2.8 0 1 0-5.6 0M535.6 612m-2.8 0a2.8 2.8 0 1 0 5.6 0a2.8 2.8 0 1 0-5.6 0M540 613.7m-2.8 0a2.8 2.8 0 1 0 5.6 0a2.8 2.8 0 1 0-5.6 0M541.6 619.4m-2.8 0a2.8 2.8 0 1 0 5.6 0a2.8 2.8 0 1 0-5.6 0M546.3 620.7m-2.8 0a2.8 2.8 0 1 0 5.6 0a2.8 2.8 0 1 0-5.6 0M549.4 624.3m-2.8 0a2.8 2.8 0 1 0 5.6 0a2.8 2.8 0 1 0-5.6 0M552.7 627.6m-2.8 0a2.8 2.8 0 1 0 5.6 0a2.8 2.8 0 1 0-5.6 0M451.8 545.3m-2.8 0a2.8 2.8 0 1 0 5.6 0a2.8 2.8 0 1 0-5.6 0M456.6 549.3m-2.8 0a2.8 2.8 0 1 0 5.6 0a2.8 2.8 0 1 0-5.6 0M461.6 553.2m-2.8 0a2.8 2.8 0 1 0 5.6 0a2.8 2.8 0 1 0-5.6 0M466.4 557.3m-2.8 0a2.8 2.8 0 1 0 5.6 0a2.8 2.8 0 1 0-5.6 0M471.8 560.6m-2.8 0a2.8 2.8 0 1 0 5.6 0a2.8 2.8 0 1 0-5.6 0M476.6 564.7m-2.8 0a2.8 2.8 0 1 0 5.6 0a2.8 2.8 0 1 0-5.6 0M483.2 566.3m-2.8 0a2.8 2.8 0 1 0 5.6 0a2.8 2.8 0 1 0-5.6 0M487.5 571.1m-2.8 0a2.8 2.8 0 1 0 5.6 0a2.8 2.8 0 1 0-5.6 0M491.7 576m-2.8 0a2.8 2.8 0 1 0 5.6 0a2.8 2.8 0 1 0-5.6 0M497.3 579.1m-2.8 0a2.8 2.8 0 1 0 5.6 0a2.8 2.8 0 1 0-5.6 0M501.9 583.4m-2.8 0a2.8 2.8 0 1 0 5.6 0a2.8 2.8 0 1 0-5.6 0M508.4 585.3m-2.8 0a2.8 2.8 0 1 0 5.6 0a2.8 2.8 0 1 0-5.6 0M512.8 589.9m-2.8 0a2.8 2.8 0 1 0 5.6 0a2.8 2.8 0 1 0-5.6 0M518.3 593.1m-2.8 0a2.8 2.8 0 1 0 5.6 0a2.8 2.8 0 1 0-5.6 0M522.8 597.6m-2.8 0a2.8 2.8 0 1 0 5.6 0a2.8 2.8 0 1 0-5.6 0M527.8 601.4m-2.8 0a2.8 2.8 0 1 0 5.6 0a2.8 2.8 0 1 0-5.6 0M533.9 603.8m-2.8 0a2.8 2.8 0 1 0 5.6 0a2.8 2.8 0 1 0-5.6 0M538.6 608m-2.8 0a2.8 2.8 0 1 0 5.6 0a2.8 2.8 0 1 0-5.6 0M543.6 611.9m-2.8 0a2.8 2.8 0 1 0 5.6 0a2.8 2.8 0 1 0-5.6 0M570.3 638.9m-2.8 0a2.8 2.8 0 1 0 5.6 0a2.8 2.8 0 1 0-5.6 0M575.6 642.9m-2.8 0a2.8 2.8 0 1 0 5.6 0a2.8 2.8 0 1 0-5.6 0M580.9 646.8m-2.8 0a2.8 2.8 0 1 0 5.6 0a2.8 2.8 0 1 0-5.6 0M586.2 650.8m-2.8 0a2.8 2.8 0 1 0 5.6 0a2.8 2.8 0 1 0-5.6 0M591.4 654.7m-2.8 0a2.8 2.8 0 1 0 5.6 0a2.8 2.8 0 1 0-5.6 0M596.7 658.7m-2.8 0a2.8 2.8 0 1 0 5.6 0a2.8 2.8 0 1 0-5.6 0M616.5 673m-2.8 0a2.8 2.8 0 1 0 5.6 0a2.8 2.8 0 1 0-5.6 0M621.5 676.5m-2.8 0a2.8 2.8 0 1 0 5.6 0a2.8 2.8 0 1 0-5.6 0M626.6 679.9m-2.8 0a2.8 2.8 0 1 0 5.6 0a2.8 2.8 0 1 0-5.6 0M631 684.2m-2.8 0a2.8 2.8 0 1 0 5.6 0a2.8 2.8 0 1 0-5.6 0M636.5 686.9m-2.8 0a2.8 2.8 0 1 0 5.6 0a2.8 2.8 0 1 0-5.6 0M641.1 691m-2.8 0a2.8 2.8 0 1 0 5.6 0a2.8 2.8 0 1 0-5.6 0M645.8 695m-2.8 0a2.8 2.8 0 1 0 5.6 0a2.8 2.8 0 1 0-5.6 0M651.3 697.8m-2.8 0a2.8 2.8 0 1 0 5.6 0a2.8 2.8 0 1 0-5.6 0M655.8 701.9m-2.8 0a2.8 2.8 0 1 0 5.6 0a2.8 2.8 0 1 0-5.6 0M660.7 705.5m-2.8 0a2.8 2.8 0 1 0 5.6 0a2.8 2.8 0 1 0-5.6 0M666.1 708.6m-2.8 0a2.8 2.8 0 1 0 5.6 0a2.8 2.8 0 1 0-5.6 0M670.7 712.5m-2.8 0a2.8 2.8 0 1 0 5.6 0a2.8 2.8 0 1 0-5.6 0M675.4 716.4m-2.8 0a2.8 2.8 0 1 0 5.6 0a2.8 2.8 0 1 0-5.6 0M680.5 719.8m-2.8 0a2.8 2.8 0 1 0 5.6 0a2.8 2.8 0 1 0-5.6 0M685.3 723.6m-2.8 0a2.8 2.8 0 1 0 5.6 0a2.8 2.8 0 1 0-5.6 0M690.6 726.7m-2.8 0a2.8 2.8 0 1 0 5.6 0a2.8 2.8 0 1 0-5.6 0M695.5 730.4m-2.8 0a2.8 2.8 0 1 0 5.6 0a2.8 2.8 0 1 0-5.6 0M700.5 733.9m-2.8 0a2.8 2.8 0 1 0 5.6 0a2.8 2.8 0 1 0-5.6 0M705.1 737.8m-2.8 0a2.8 2.8 0 1 0 5.6 0a2.8 2.8 0 1 0-5.6 0M709.7 741.8m-2.8 0a2.8 2.8 0 1 0 5.6 0a2.8 2.8 0 1 0-5.6 0M714.9 745.1m-2.8 0a2.8 2.8 0 1 0 5.6 0a2.8 2.8 0 1 0-5.6 0M719.7 748.9m-2.8 0a2.8 2.8 0 1 0 5.6 0a2.8 2.8 0 1 0-5.6 0M724.9 752.1m-2.8 0a2.8 2.8 0 1 0 5.6 0a2.8 2.8 0 1 0-5.6 0M1807.2 107.2m-2.8 0a2.8 2.8 0 1 0 5.6 0a2.8 2.8 0 1 0-5.6 0M1807 110.5m-2.8 0a2.8 2.8 0 1 0 5.6 0a2.8 2.8 0 1 0-5.6 0M1806.7 113.8m-2.8 0a2.8 2.8 0 1 0 5.6 0a2.8 2.8 0 1 0-5.6 0M1806.5 117.1m-2.8 0a2.8 2.8 0 1 0 5.6 0a2.8 2.8 0 1 0-5.6 0M1806.2 120.4m-2.8 0a2.8 2.8 0 1 0 5.6 0a2.8 2.8 0 1 0-5.6 0M1806 123.6m-2.8 0a2.8 2.8 0 1 0 5.6 0a2.8 2.8 0 1 0-5.6 0M1805.7 126.9m-2.8 0a2.8 2.8 0 1 0 5.6 0a2.8 2.8 0 1 0-5.6 0M1799 201.8m-2.8 0a2.8 2.8 0 1 0 5.6 0a2.8 2.8 0 1 0-5.6 0M1798.5 208.6m-2.8 0a2.8 2.8 0 1 0 5.6 0a2.8 2.8 0 1 0-5.6 0M1799.7 215.5m-2.8 0a2.8 2.8 0 1 0 5.6 0a2.8 2.8 0 1 0-5.6 0M1799.1 222.3m-2.8 0a2.8 2.8 0 1 0 5.6 0a2.8 2.8 0 1 0-5.6 0M1797.1 229m-2.8 0a2.8 2.8 0 1 0 5.6 0a2.8 2.8 0 1 0-5.6 0M1796.8 235.8m-2.8 0a2.8 2.8 0 1 0 5.6 0a2.8 2.8 0 1 0-5.6 0M1796.4 242.6m-2.8 0a2.8 2.8 0 1 0 5.6 0a2.8 2.8 0 1 0-5.6 0M1796.6 249.4m-2.8 0a2.8 2.8 0 1 0 5.6 0a2.8 2.8 0 1 0-5.6 0M1795.4 256.1m-2.8 0a2.8 2.8 0 1 0 5.6 0a2.8 2.8 0 1 0-5.6 0M1794.9 262.9m-2.8 0a2.8 2.8 0 1 0 5.6 0a2.8 2.8 0 1 0-5.6 0M1794.4 269.7m-2.8 0a2.8 2.8 0 1 0 5.6 0a2.8 2.8 0 1 0-5.6 0M1794.7 276.5m-2.8 0a2.8 2.8 0 1 0 5.6 0a2.8 2.8 0 1 0-5.6 0M1793.7 283.3m-2.8 0a2.8 2.8 0 1 0 5.6 0a2.8 2.8 0 1 0-5.6 0M1793.2 290.1m-2.8 0a2.8 2.8 0 1 0 5.6 0a2.8 2.8 0 1 0-5.6 0M1792 296.8m-2.8 0a2.8 2.8 0 1 0 5.6 0a2.8 2.8 0 1 0-5.6 0M1791 303.5m-2.8 0a2.8 2.8 0 1 0 5.6 0a2.8 2.8 0 1 0-5.6 0M1790.5 310.3m-2.8 0a2.8 2.8 0 1 0 5.6 0a2.8 2.8 0 1 0-5.6 0M1790.8 317.2m-2.8 0a2.8 2.8 0 1 0 5.6 0a2.8 2.8 0 1 0-5.6 0M1790.5 323.9m-2.8 0a2.8 2.8 0 1 0 5.6 0a2.8 2.8 0 1 0-5.6 0M1790.3 330.8m-2.8 0a2.8 2.8 0 1 0 5.6 0a2.8 2.8 0 1 0-5.6 0M1790.1 337.6m-2.8 0a2.8 2.8 0 1 0 5.6 0a2.8 2.8 0 1 0-5.6 0M1789.5 344.3m-2.8 0a2.8 2.8 0 1 0 5.6 0a2.8 2.8 0 1 0-5.6 0M1788.1 351m-2.8 0a2.8 2.8 0 1 0 5.6 0a2.8 2.8 0 1 0-5.6 0M1787.9 357.8m-2.8 0a2.8 2.8 0 1 0 5.6 0a2.8 2.8 0 1 0-5.6 0M1787.4 364.6m-2.8 0a2.8 2.8 0 1 0 5.6 0a2.8 2.8 0 1 0-5.6 0M1785.9 371.3m-2.8 0a2.8 2.8 0 1 0 5.6 0a2.8 2.8 0 1 0-5.6 0M1786.2 378.2m-2.8 0a2.8 2.8 0 1 0 5.6 0a2.8 2.8 0 1 0-5.6 0M1785.7 385m-2.8 0a2.8 2.8 0 1 0 5.6 0a2.8 2.8 0 1 0-5.6 0M1785.8 391.8m-2.8 0a2.8 2.8 0 1 0 5.6 0a2.8 2.8 0 1 0-5.6 0M1785.6 398.6m-2.8 0a2.8 2.8 0 1 0 5.6 0a2.8 2.8 0 1 0-5.6 0M1784.3 405.3m-2.8 0a2.8 2.8 0 1 0 5.6 0a2.8 2.8 0 1 0-5.6 0M1784 412.1m-2.8 0a2.8 2.8 0 1 0 5.6 0a2.8 2.8 0 1 0-5.6 0M1782.6 418.8m-2.8 0a2.8 2.8 0 1 0 5.6 0a2.8 2.8 0 1 0-5.6 0M1780.9 425.5m-2.8 0a2.8 2.8 0 1 0 5.6 0a2.8 2.8 0 1 0-5.6 0M1780.9 432.3m-2.8 0a2.8 2.8 0 1 0 5.6 0a2.8 2.8 0 1 0-5.6 0M1782.1 434.2m-2.8 0a2.8 2.8 0 1 0 5.6 0a2.8 2.8 0 1 0-5.6 0M1782.4 437.6m-2.8 0a2.8 2.8 0 1 0 5.6 0a2.8 2.8 0 1 0-5.6 0M1780.9 440.9m-2.8 0a2.8 2.8 0 1 0 5.6 0a2.8 2.8 0 1 0-5.6 0M1781.6 444.4m-2.8 0a2.8 2.8 0 1 0 5.6 0a2.8 2.8 0 1 0-5.6 0M1781.7 447.8m-2.8 0a2.8 2.8 0 1 0 5.6 0a2.8 2.8 0 1 0-5.6 0M1780 451.1m-2.8 0a2.8 2.8 0 1 0 5.6 0a2.8 2.8 0 1 0-5.6 0M1777.7 454.3m-2.8 0a2.8 2.8 0 1 0 5.6 0a2.8 2.8 0 1 0-5.6 0M1777.9 457.8m-2.8 0a2.8 2.8 0 1 0 5.6 0a2.8 2.8 0 1 0-5.6 0M1777.8 461.2m-2.8 0a2.8 2.8 0 1 0 5.6 0a2.8 2.8 0 1 0-5.6 0M1779.6 464.7m-2.8 0a2.8 2.8 0 1 0 5.6 0a2.8 2.8 0 1 0-5.6 0M1778.1 468m-2.8 0a2.8 2.8 0 1 0 5.6 0a2.8 2.8 0 1 0-5.6 0M1778.9 471.5m-2.8 0a2.8 2.8 0 1 0 5.6 0a2.8 2.8 0 1 0-5.6 0M1779 474.9m-2.8 0a2.8 2.8 0 1 0 5.6 0a2.8 2.8 0 1 0-5.6 0M1779 478.3m-2.8 0a2.8 2.8 0 1 0 5.6 0a2.8 2.8 0 1 0-5.6 0M1778.4 481.7m-2.8 0a2.8 2.8 0 1 0 5.6 0a2.8 2.8 0 1 0-5.6 0M1775.3 484.9m-2.8 0a2.8 2.8 0 1 0 5.6 0a2.8 2.8 0 1 0-5.6 0M1775.5 488.3m-2.8 0a2.8 2.8 0 1 0 5.6 0a2.8 2.8 0 1 0-5.6 0M1775.3 491.7m-2.8 0a2.8 2.8 0 1 0 5.6 0a2.8 2.8 0 1 0-5.6 0M1775.1 495.1m-2.8 0a2.8 2.8 0 1 0 5.6 0a2.8 2.8 0 1 0-5.6 0M1777.3 498.6m-2.8 0a2.8 2.8 0 1 0 5.6 0a2.8 2.8 0 1 0-5.6 0M1776.7 502m-2.8 0a2.8 2.8 0 1 0 5.6 0a2.8 2.8 0 1 0-5.6 0M1775.2 505.3m-2.8 0a2.8 2.8 0 1 0 5.6 0a2.8 2.8 0 1 0-5.6 0M1774.5 508.7m-2.8 0a2.8 2.8 0 1 0 5.6 0a2.8 2.8 0 1 0-5.6 0M1773.8 512m-2.8 0a2.8 2.8 0 1 0 5.6 0a2.8 2.8 0 1 0-5.6 0M1773.5 515.4m-2.8 0a2.8 2.8 0 1 0 5.6 0a2.8 2.8 0 1 0-5.6 0M1776.4 519m-2.8 0a2.8 2.8 0 1 0 5.6 0a2.8 2.8 0 1 0-5.6 0M1774.1 522.3m-2.8 0a2.8 2.8 0 1 0 5.6 0a2.8 2.8 0 1 0-5.6 0M1773.6 525.6m-2.8 0a2.8 2.8 0 1 0 5.6 0a2.8 2.8 0 1 0-5.6 0M1774 529.1m-2.8 0a2.8 2.8 0 1 0 5.6 0a2.8 2.8 0 1 0-5.6 0M1775.1 532.6m-2.8 0a2.8 2.8 0 1 0 5.6 0a2.8 2.8 0 1 0-5.6 0M1773.7 535.9m-2.8 0a2.8 2.8 0 1 0 5.6 0a2.8 2.8 0 1 0-5.6 0M1775 539.4m-2.8 0a2.8 2.8 0 1 0 5.6 0a2.8 2.8 0 1 0-5.6 0M1771.4 542.5m-2.8 0a2.8 2.8 0 1 0 5.6 0a2.8 2.8 0 1 0-5.6 0M1771.4 545.9m-2.8 0a2.8 2.8 0 1 0 5.6 0a2.8 2.8 0 1 0-5.6 0M1772.4 549.4m-2.8 0a2.8 2.8 0 1 0 5.6 0a2.8 2.8 0 1 0-5.6 0M1773.2 552.9m-2.8 0a2.8 2.8 0 1 0 5.6 0a2.8 2.8 0 1 0-5.6 0M1770.5 556.1m-2.8 0a2.8 2.8 0 1 0 5.6 0a2.8 2.8 0 1 0-5.6 0M1771.6 559.6m-2.8 0a2.8 2.8 0 1 0 5.6 0a2.8 2.8 0 1 0-5.6 0M1770.1 562.9m-2.8 0a2.8 2.8 0 1 0 5.6 0a2.8 2.8 0 1 0-5.6 0M1769.9 566.2m-2.8 0a2.8 2.8 0 1 0 5.6 0a2.8 2.8 0 1 0-5.6 0M1770.8 569.7m-2.8 0a2.8 2.8 0 1 0 5.6 0a2.8 2.8 0 1 0-5.6 0M1770.7 573.1m-2.8 0a2.8 2.8 0 1 0 5.6 0a2.8 2.8 0 1 0-5.6 0M1769.5 576.4m-2.8 0a2.8 2.8 0 1 0 5.6 0a2.8 2.8 0 1 0-5.6 0M1769.7 579.9m-2.8 0a2.8 2.8 0 1 0 5.6 0a2.8 2.8 0 1 0-5.6 0M1770.3 583.4m-2.8 0a2.8 2.8 0 1 0 5.6 0a2.8 2.8 0 1 0-5.6 0M1769.2 586.7m-2.8 0a2.8 2.8 0 1 0 5.6 0a2.8 2.8 0 1 0-5.6 0M1766.8 589.8m-2.8 0a2.8 2.8 0 1 0 5.6 0a2.8 2.8 0 1 0-5.6 0M1769.5 593.5m-2.8 0a2.8 2.8 0 1 0 5.6 0a2.8 2.8 0 1 0-5.6 0M1769.2 596.9m-2.8 0a2.8 2.8 0 1 0 5.6 0a2.8 2.8 0 1 0-5.6 0M1766.5 600m-2.8 0a2.8 2.8 0 1 0 5.6 0a2.8 2.8 0 1 0-5.6 0M1767.6 603.6m-2.8 0a2.8 2.8 0 1 0 5.6 0a2.8 2.8 0 1 0-5.6 0M1766.2 606.8m-2.8 0a2.8 2.8 0 1 0 5.6 0a2.8 2.8 0 1 0-5.6 0M1766.2 610.3m-2.8 0a2.8 2.8 0 1 0 5.6 0a2.8 2.8 0 1 0-5.6 0M1766.3 613.7m-2.8 0a2.8 2.8 0 1 0 5.6 0a2.8 2.8 0 1 0-5.6 0M1763.4 616.8m-2.8 0a2.8 2.8 0 1 0 5.6 0a2.8 2.8 0 1 0-5.6 0M1766.3 620.5m-2.8 0a2.8 2.8 0 1 0 5.6 0a2.8 2.8 0 1 0-5.6 0M1765.1 623.8m-2.8 0a2.8 2.8 0 1 0 5.6 0a2.8 2.8 0 1 0-5.6 0M1765.6 627.3m-2.8 0a2.8 2.8 0 1 0 5.6 0a2.8 2.8 0 1 0-5.6 0M1763.5 630.5m-2.8 0a2.8 2.8 0 1 0 5.6 0a2.8 2.8 0 1 0-5.6 0M1764.6 634m-2.8 0a2.8 2.8 0 1 0 5.6 0a2.8 2.8 0 1 0-5.6 0M1763.9 637.4m-2.8 0a2.8 2.8 0 1 0 5.6 0a2.8 2.8 0 1 0-5.6 0M1762.1 640.6m-2.8 0a2.8 2.8 0 1 0 5.6 0a2.8 2.8 0 1 0-5.6 0M1763.4 644.1m-2.8 0a2.8 2.8 0 1 0 5.6 0a2.8 2.8 0 1 0-5.6 0M1762.1 647.4m-2.8 0a2.8 2.8 0 1 0 5.6 0a2.8 2.8 0 1 0-5.6 0M1760.2 650.6m-2.8 0a2.8 2.8 0 1 0 5.6 0a2.8 2.8 0 1 0-5.6 0M1763 654.4m-2.8 0a2.8 2.8 0 1 0 5.6 0a2.8 2.8 0 1 0-5.6 0M1762.7 657.8m-2.8 0a2.8 2.8 0 1 0 5.6 0a2.8 2.8 0 1 0-5.6 0M1761.6 661.1m-2.8 0a2.8 2.8 0 1 0 5.6 0a2.8 2.8 0 1 0-5.6 0M1759 664.2m-2.8 0a2.8 2.8 0 1 0 5.6 0a2.8 2.8 0 1 0-5.6 0M1759.1 667.6m-2.8 0a2.8 2.8 0 1 0 5.6 0a2.8 2.8 0 1 0-5.6 0M1760.2 671.2m-2.8 0a2.8 2.8 0 1 0 5.6 0a2.8 2.8 0 1 0-5.6 0M1759.3 674.5m-2.8 0a2.8 2.8 0 1 0 5.6 0a2.8 2.8 0 1 0-5.6 0M1759.5 678m-2.8 0a2.8 2.8 0 1 0 5.6 0a2.8 2.8 0 1 0-5.6 0M1757.9 681.2m-2.8 0a2.8 2.8 0 1 0 5.6 0a2.8 2.8 0 1 0-5.6 0M1759.1 684.8m-2.8 0a2.8 2.8 0 1 0 5.6 0a2.8 2.8 0 1 0-5.6 0M1756.1 687.8m-2.8 0a2.8 2.8 0 1 0 5.6 0a2.8 2.8 0 1 0-5.6 0M1754.8 691m-2.8 0a2.8 2.8 0 1 0 5.6 0a2.8 2.8 0 1 0-5.6 0M1754.1 694.4m-2.8 0a2.8 2.8 0 1 0 5.6 0a2.8 2.8 0 1 0-5.6 0M1754.5 697.9m-2.8 0a2.8 2.8 0 1 0 5.6 0a2.8 2.8 0 1 0-5.6 0M1753.1 701.1m-2.8 0a2.8 2.8 0 1 0 5.6 0a2.8 2.8 0 1 0-5.6 0M1756.3 705m-2.8 0a2.8 2.8 0 1 0 5.6 0a2.8 2.8 0 1 0-5.6 0M1754.8 708.2m-2.8 0a2.8 2.8 0 1 0 5.6 0a2.8 2.8 0 1 0-5.6 0M1751.6 711.2m-2.8 0a2.8 2.8 0 1 0 5.6 0a2.8 2.8 0 1 0-5.6 0M1751.9 714.7m-2.8 0a2.8 2.8 0 1 0 5.6 0a2.8 2.8 0 1 0-5.6 0M1752.8 718.2m-2.8 0a2.8 2.8 0 1 0 5.6 0a2.8 2.8 0 1 0-5.6 0M1750.2 721.3m-2.8 0a2.8 2.8 0 1 0 5.6 0a2.8 2.8 0 1 0-5.6 0M1751 724.8m-2.8 0a2.8 2.8 0 1 0 5.6 0a2.8 2.8 0 1 0-5.6 0M1749.8 728.1m-2.8 0a2.8 2.8 0 1 0 5.6 0a2.8 2.8 0 1 0-5.6 0M1751.4 731.8m-2.8 0a2.8 2.8 0 1 0 5.6 0a2.8 2.8 0 1 0-5.6 0M1751.3 735.2m-2.8 0a2.8 2.8 0 1 0 5.6 0a2.8 2.8 0 1 0-5.6 0M1749.8 738.4m-2.8 0a2.8 2.8 0 1 0 5.6 0a2.8 2.8 0 1 0-5.6 0M1820.6 267.5m-2.8 0a2.8 2.8 0 1 0 5.6 0a2.8 2.8 0 1 0-5.6 0M1819.1 274.8m-2.8 0a2.8 2.8 0 1 0 5.6 0a2.8 2.8 0 1 0-5.6 0M1817.7 282m-2.8 0a2.8 2.8 0 1 0 5.6 0a2.8 2.8 0 1 0-5.6 0M1816.2 289.3m-2.8 0a2.8 2.8 0 1 0 5.6 0a2.8 2.8 0 1 0-5.6 0M1814.8 296.5m-2.8 0a2.8 2.8 0 1 0 5.6 0a2.8 2.8 0 1 0-5.6 0M1813.4 303.8m-2.8 0a2.8 2.8 0 1 0 5.6 0a2.8 2.8 0 1 0-5.6 0M1811.9 311.1m-2.8 0a2.8 2.8 0 1 0 5.6 0a2.8 2.8 0 1 0-5.6 0M1810.5 318.3m-2.8 0a2.8 2.8 0 1 0 5.6 0a2.8 2.8 0 1 0-5.6 0M1809 325.6m-2.8 0a2.8 2.8 0 1 0 5.6 0a2.8 2.8 0 1 0-5.6 0M1807.6 332.8m-2.8 0a2.8 2.8 0 1 0 5.6 0a2.8 2.8 0 1 0-5.6 0M1806.1 340.1m-2.8 0a2.8 2.8 0 1 0 5.6 0a2.8 2.8 0 1 0-5.6 0M1804.7 347.3m-2.8 0a2.8 2.8 0 1 0 5.6 0a2.8 2.8 0 1 0-5.6 0M1803.4 354.6m-2.8 0a2.8 2.8 0 1 0 5.6 0a2.8 2.8 0 1 0-5.6 0M1802.2 361.9m-2.8 0a2.8 2.8 0 1 0 5.6 0a2.8 2.8 0 1 0-5.6 0M1800.9 369.2m-2.8 0a2.8 2.8 0 1 0 5.6 0a2.8 2.8 0 1 0-5.6 0M1799.7 376.5m-2.8 0a2.8 2.8 0 1 0 5.6 0a2.8 2.8 0 1 0-5.6 0M1798.4 383.8m-2.8 0a2.8 2.8 0 1 0 5.6 0a2.8 2.8 0 1 0-5.6 0M1797.2 391.1m-2.8 0a2.8 2.8 0 1 0 5.6 0a2.8 2.8 0 1 0-5.6 0M1795.9 398.4m-2.8 0a2.8 2.8 0 1 0 5.6 0a2.8 2.8 0 1 0-5.6 0M1794.6 405.7m-2.8 0a2.8 2.8 0 1 0 5.6 0a2.8 2.8 0 1 0-5.6 0M1793.4 413m-2.8 0a2.8 2.8 0 1 0 5.6 0a2.8 2.8 0 1 0-5.6 0M1792.1 420.3m-2.8 0a2.8 2.8 0 1 0 5.6 0a2.8 2.8 0 1 0-5.6 0M1790.8 427.6m-2.8 0a2.8 2.8 0 1 0 5.6 0a2.8 2.8 0 1 0-5.6 0M1789.5 434.8m-2.8 0a2.8 2.8 0 1 0 5.6 0a2.8 2.8 0 1 0-5.6 0M1788.2 442.1m-2.8 0a2.8 2.8 0 1 0 5.6 0a2.8 2.8 0 1 0-5.6 0M1787 449.4m-2.8 0a2.8 2.8 0 1 0 5.6 0a2.8 2.8 0 1 0-5.6 0M1785.7 456.7m-2.8 0a2.8 2.8 0 1 0 5.6 0a2.8 2.8 0 1 0-5.6 0M1784.3 464m-2.8 0a2.8 2.8 0 1 0 5.6 0a2.8 2.8 0 1 0-5.6 0M1782.8 471.2m-2.8 0a2.8 2.8 0 1 0 5.6 0a2.8 2.8 0 1 0-5.6 0M1852.6 106m-2.8 0a2.8 2.8 0 1 0 5.6 0a2.8 2.8 0 1 0-5.6 0M1852.5 109.3m-2.8 0a2.8 2.8 0 1 0 5.6 0a2.8 2.8 0 1 0-5.6 0M1852.4 112.6m-2.8 0a2.8 2.8 0 1 0 5.6 0a2.8 2.8 0 1 0-5.6 0M1852.3 115.9m-2.8 0a2.8 2.8 0 1 0 5.6 0a2.8 2.8 0 1 0-5.6 0M1852.2 119.2m-2.8 0a2.8 2.8 0 1 0 5.6 0a2.8 2.8 0 1 0-5.6 0M1852.1 122.5m-2.8 0a2.8 2.8 0 1 0 5.6 0a2.8 2.8 0 1 0-5.6 0M1850.7 125.4m-2.8 0a2.8 2.8 0 1 0 5.6 0a2.8 2.8 0 1 0-5.6 0M1849.2 128.4m-2.8 0a2.8 2.8 0 1 0 5.6 0a2.8 2.8 0 1 0-5.6 0M1845.2 135.2m-2.8 0a2.8 2.8 0 1 0 5.6 0a2.8 2.8 0 1 0-5.6 0M1843.6 141.7m-2.8 0a2.8 2.8 0 1 0 5.6 0a2.8 2.8 0 1 0-5.6 0M1843.1 148.3m-2.8 0a2.8 2.8 0 1 0 5.6 0a2.8 2.8 0 1 0-5.6 0M1842.3 154.9m-2.8 0a2.8 2.8 0 1 0 5.6 0a2.8 2.8 0 1 0-5.6 0M1841.7 161.5m-2.8 0a2.8 2.8 0 1 0 5.6 0a2.8 2.8 0 1 0-5.6 0M1839.5 167.8m-2.8 0a2.8 2.8 0 1 0 5.6 0a2.8 2.8 0 1 0-5.6 0M1838.5 174.3m-2.8 0a2.8 2.8 0 1 0 5.6 0a2.8 2.8 0 1 0-5.6 0M1836.4 180.6m-2.8 0a2.8 2.8 0 1 0 5.6 0a2.8 2.8 0 1 0-5.6 0M1835.4 187.2m-2.8 0a2.8 2.8 0 1 0 5.6 0a2.8 2.8 0 1 0-5.6 0M1833.2 193.5m-2.8 0a2.8 2.8 0 1 0 5.6 0a2.8 2.8 0 1 0-5.6 0M1833.3 200.1m-2.8 0a2.8 2.8 0 1 0 5.6 0a2.8 2.8 0 1 0-5.6 0M1831.8 206.6m-2.8 0a2.8 2.8 0 1 0 5.6 0a2.8 2.8 0 1 0-5.6 0M1831.3 213.2m-2.8 0a2.8 2.8 0 1 0 5.6 0a2.8 2.8 0 1 0-5.6 0M1831.1 219.8m-2.8 0a2.8 2.8 0 1 0 5.6 0a2.8 2.8 0 1 0-5.6 0M1830.4 226.4m-2.8 0a2.8 2.8 0 1 0 5.6 0a2.8 2.8 0 1 0-5.6 0M1829.8 232.9m-2.8 0a2.8 2.8 0 1 0 5.6 0a2.8 2.8 0 1 0-5.6 0M1830.1 239.6m-2.8 0a2.8 2.8 0 1 0 5.6 0a2.8 2.8 0 1 0-5.6 0M1829.1 246.1m-2.8 0a2.8 2.8 0 1 0 5.6 0a2.8 2.8 0 1 0-5.6 0M1829.6 248m-2.8 0a2.8 2.8 0 1 0 5.6 0a2.8 2.8 0 1 0-5.6 0M1829.9 251.6m-2.8 0a2.8 2.8 0 1 0 5.6 0a2.8 2.8 0 1 0-5.6 0M1828.1 255.1m-2.8 0a2.8 2.8 0 1 0 5.6 0a2.8 2.8 0 1 0-5.6 0M1829.6 258.8m-2.8 0a2.8 2.8 0 1 0 5.6 0a2.8 2.8 0 1 0-5.6 0M1828 262.3m-2.8 0a2.8 2.8 0 1 0 5.6 0a2.8 2.8 0 1 0-5.6 0M1828.2 265.9m-2.8 0a2.8 2.8 0 1 0 5.6 0a2.8 2.8 0 1 0-5.6 0M1828.9 269.6m-2.8 0a2.8 2.8 0 1 0 5.6 0a2.8 2.8 0 1 0-5.6 0M1827.3 273.1m-2.8 0a2.8 2.8 0 1 0 5.6 0a2.8 2.8 0 1 0-5.6 0M1828.4 276.8m-2.8 0a2.8 2.8 0 1 0 5.6 0a2.8 2.8 0 1 0-5.6 0M1827 280.3m-2.8 0a2.8 2.8 0 1 0 5.6 0a2.8 2.8 0 1 0-5.6 0M1827.8 283.9m-2.8 0a2.8 2.8 0 1 0 5.6 0a2.8 2.8 0 1 0-5.6 0M1827.5 287.5m-2.8 0a2.8 2.8 0 1 0 5.6 0a2.8 2.8 0 1 0-5.6 0M1826.2 291m-2.8 0a2.8 2.8 0 1 0 5.6 0a2.8 2.8 0 1 0-5.6 0M1824.7 294.5m-2.8 0a2.8 2.8 0 1 0 5.6 0a2.8 2.8 0 1 0-5.6 0M1826.6 298.3m-2.8 0a2.8 2.8 0 1 0 5.6 0a2.8 2.8 0 1 0-5.6 0M1826 301.9m-2.8 0a2.8 2.8 0 1 0 5.6 0a2.8 2.8 0 1 0-5.6 0M1824.6 305.4m-2.8 0a2.8 2.8 0 1 0 5.6 0a2.8 2.8 0 1 0-5.6 0M1823.3 308.9m-2.8 0a2.8 2.8 0 1 0 5.6 0a2.8 2.8 0 1 0-5.6 0M1824.2 312.5m-2.8 0a2.8 2.8 0 1 0 5.6 0a2.8 2.8 0 1 0-5.6 0M1824.5 316.2m-2.8 0a2.8 2.8 0 1 0 5.6 0a2.8 2.8 0 1 0-5.6 0M1822.5 319.6m-2.8 0a2.8 2.8 0 1 0 5.6 0a2.8 2.8 0 1 0-5.6 0M1825 323.4m-2.8 0a2.8 2.8 0 1 0 5.6 0a2.8 2.8 0 1 0-5.6 0M1822.4 326.9m-2.8 0a2.8 2.8 0 1 0 5.6 0a2.8 2.8 0 1 0-5.6 0M1823.8 330.6m-2.8 0a2.8 2.8 0 1 0 5.6 0a2.8 2.8 0 1 0-5.6 0M1824 334.2m-2.8 0a2.8 2.8 0 1 0 5.6 0a2.8 2.8 0 1 0-5.6 0M1823.9 337.8m-2.8 0a2.8 2.8 0 1 0 5.6 0a2.8 2.8 0 1 0-5.6 0M1823.2 341.3m-2.8 0a2.8 2.8 0 1 0 5.6 0a2.8 2.8 0 1 0-5.6 0M1821.5 344.9m-2.8 0a2.8 2.8 0 1 0 5.6 0a2.8 2.8 0 1 0-5.6 0M1823.2 348.5m-2.8 0a2.8 2.8 0 1 0 5.6 0a2.8 2.8 0 1 0-5.6 0M1821.9 352.1m-2.8 0a2.8 2.8 0 1 0 5.6 0a2.8 2.8 0 1 0-5.6 0M1821.5 355.7m-2.8 0a2.8 2.8 0 1 0 5.6 0a2.8 2.8 0 1 0-5.6 0M1822.1 359.3m-2.8 0a2.8 2.8 0 1 0 5.6 0a2.8 2.8 0 1 0-5.6 0M1821.4 362.9m-2.8 0a2.8 2.8 0 1 0 5.6 0a2.8 2.8 0 1 0-5.6 0M1822.7 366.5m-2.8 0a2.8 2.8 0 1 0 5.6 0a2.8 2.8 0 1 0-5.6 0M1822.5 370.1m-2.8 0a2.8 2.8 0 1 0 5.6 0a2.8 2.8 0 1 0-5.6 0M1821.9 373.7m-2.8 0a2.8 2.8 0 1 0 5.6 0a2.8 2.8 0 1 0-5.6 0M1820.3 377.2m-2.8 0a2.8 2.8 0 1 0 5.6 0a2.8 2.8 0 1 0-5.6 0M1820.9 380.9m-2.8 0a2.8 2.8 0 1 0 5.6 0a2.8 2.8 0 1 0-5.6 0M1821 384.5m-2.8 0a2.8 2.8 0 1 0 5.6 0a2.8 2.8 0 1 0-5.6 0M1820 388m-2.8 0a2.8 2.8 0 1 0 5.6 0a2.8 2.8 0 1 0-5.6 0M1820.2 391.6m-2.8 0a2.8 2.8 0 1 0 5.6 0a2.8 2.8 0 1 0-5.6 0M1820.5 395.3m-2.8 0a2.8 2.8 0 1 0 5.6 0a2.8 2.8 0 1 0-5.6 0M1818.8 398.8m-2.8 0a2.8 2.8 0 1 0 5.6 0a2.8 2.8 0 1 0-5.6 0M1818.9 402.4m-2.8 0a2.8 2.8 0 1 0 5.6 0a2.8 2.8 0 1 0-5.6 0M1820 406.1m-2.8 0a2.8 2.8 0 1 0 5.6 0a2.8 2.8 0 1 0-5.6 0M1818.6 409.6m-2.8 0a2.8 2.8 0 1 0 5.6 0a2.8 2.8 0 1 0-5.6 0M1818.3 413.1m-2.8 0a2.8 2.8 0 1 0 5.6 0a2.8 2.8 0 1 0-5.6 0M1816.8 416.6m-2.8 0a2.8 2.8 0 1 0 5.6 0a2.8 2.8 0 1 0-5.6 0M1816.7 420.2m-2.8 0a2.8 2.8 0 1 0 5.6 0a2.8 2.8 0 1 0-5.6 0M1817.6 423.9m-2.8 0a2.8 2.8 0 1 0 5.6 0a2.8 2.8 0 1 0-5.6 0M1815 427.2m-2.8 0a2.8 2.8 0 1 0 5.6 0a2.8 2.8 0 1 0-5.6 0M1817.1 431.1m-2.8 0a2.8 2.8 0 1 0 5.6 0a2.8 2.8 0 1 0-5.6 0M1815.8 434.6m-2.8 0a2.8 2.8 0 1 0 5.6 0a2.8 2.8 0 1 0-5.6 0M1814.3 438m-2.8 0a2.8 2.8 0 1 0 5.6 0a2.8 2.8 0 1 0-5.6 0M1815.6 441.8m-2.8 0a2.8 2.8 0 1 0 5.6 0a2.8 2.8 0 1 0-5.6 0M1814.2 445.3m-2.8 0a2.8 2.8 0 1 0 5.6 0a2.8 2.8 0 1 0-5.6 0M1815.1 449m-2.8 0a2.8 2.8 0 1 0 5.6 0a2.8 2.8 0 1 0-5.6 0M1812.9 452.4m-2.8 0a2.8 2.8 0 1 0 5.6 0a2.8 2.8 0 1 0-5.6 0M1812.3 456m-2.8 0a2.8 2.8 0 1 0 5.6 0a2.8 2.8 0 1 0-5.6 0M1812.6 459.6m-2.8 0a2.8 2.8 0 1 0 5.6 0a2.8 2.8 0 1 0-5.6 0M1811.4 463.1m-2.8 0a2.8 2.8 0 1 0 5.6 0a2.8 2.8 0 1 0-5.6 0M1812.8 466.8m-2.8 0a2.8 2.8 0 1 0 5.6 0a2.8 2.8 0 1 0-5.6 0M1811.4 470.3m-2.8 0a2.8 2.8 0 1 0 5.6 0a2.8 2.8 0 1 0-5.6 0M1811.4 473.9m-2.8 0a2.8 2.8 0 1 0 5.6 0a2.8 2.8 0 1 0-5.6 0M1811.1 477.5m-2.8 0a2.8 2.8 0 1 0 5.6 0a2.8 2.8 0 1 0-5.6 0M1811.2 481.2m-2.8 0a2.8 2.8 0 1 0 5.6 0a2.8 2.8 0 1 0-5.6 0M1809.7 484.6m-2.8 0a2.8 2.8 0 1 0 5.6 0a2.8 2.8 0 1 0-5.6 0M1808.9 488.1m-2.8 0a2.8 2.8 0 1 0 5.6 0a2.8 2.8 0 1 0-5.6 0M1809.9 491.9m-2.8 0a2.8 2.8 0 1 0 5.6 0a2.8 2.8 0 1 0-5.6 0M1808.9 495.4m-2.8 0a2.8 2.8 0 1 0 5.6 0a2.8 2.8 0 1 0-5.6 0M1810.2 499.2m-2.8 0a2.8 2.8 0 1 0 5.6 0a2.8 2.8 0 1 0-5.6 0M1807.9 502.5m-2.8 0a2.8 2.8 0 1 0 5.6 0a2.8 2.8 0 1 0-5.6 0M1807.6 506.1m-2.8 0a2.8 2.8 0 1 0 5.6 0a2.8 2.8 0 1 0-5.6 0M1806.1 509.6m-2.8 0a2.8 2.8 0 1 0 5.6 0a2.8 2.8 0 1 0-5.6 0M1806.3 513.2m-2.8 0a2.8 2.8 0 1 0 5.6 0a2.8 2.8 0 1 0-5.6 0M1807.5 517m-2.8 0a2.8 2.8 0 1 0 5.6 0a2.8 2.8 0 1 0-5.6 0M1806.9 520.5m-2.8 0a2.8 2.8 0 1 0 5.6 0a2.8 2.8 0 1 0-5.6 0M1805.7 524m-2.8 0a2.8 2.8 0 1 0 5.6 0a2.8 2.8 0 1 0-5.6 0M1807.3 527.8m-2.8 0a2.8 2.8 0 1 0 5.6 0a2.8 2.8 0 1 0-5.6 0M1805.6 531.2m-2.8 0a2.8 2.8 0 1 0 5.6 0a2.8 2.8 0 1 0-5.6 0M1806.1 534.9m-2.8 0a2.8 2.8 0 1 0 5.6 0a2.8 2.8 0 1 0-5.6 0M1805.9 538.5m-2.8 0a2.8 2.8 0 1 0 5.6 0a2.8 2.8 0 1 0-5.6 0M1805.8 542.1m-2.8 0a2.8 2.8 0 1 0 5.6 0a2.8 2.8 0 1 0-5.6 0M1803.3 545.5m-2.8 0a2.8 2.8 0 1 0 5.6 0a2.8 2.8 0 1 0-5.6 0M1804.8 549.3m-2.8 0a2.8 2.8 0 1 0 5.6 0a2.8 2.8 0 1 0-5.6 0M1804.1 552.8m-2.8 0a2.8 2.8 0 1 0 5.6 0a2.8 2.8 0 1 0-5.6 0M1803.4 556.3m-2.8 0a2.8 2.8 0 1 0 5.6 0a2.8 2.8 0 1 0-5.6 0M1801.6 559.8m-2.8 0a2.8 2.8 0 1 0 5.6 0a2.8 2.8 0 1 0-5.6 0M1803.6 563.6m-2.8 0a2.8 2.8 0 1 0 5.6 0a2.8 2.8 0 1 0-5.6 0M1802.1 567.1m-2.8 0a2.8 2.8 0 1 0 5.6 0a2.8 2.8 0 1 0-5.6 0M1801.5 570.6m-2.8 0a2.8 2.8 0 1 0 5.6 0a2.8 2.8 0 1 0-5.6 0M1800.1 574.1m-2.8 0a2.8 2.8 0 1 0 5.6 0a2.8 2.8 0 1 0-5.6 0M1799.9 577.7m-2.8 0a2.8 2.8 0 1 0 5.6 0a2.8 2.8 0 1 0-5.6 0M1799.3 581.3m-2.8 0a2.8 2.8 0 1 0 5.6 0a2.8 2.8 0 1 0-5.6 0M1800.7 585m-2.8 0a2.8 2.8 0 1 0 5.6 0a2.8 2.8 0 1 0-5.6 0M1799.7 588.5m-2.8 0a2.8 2.8 0 1 0 5.6 0a2.8 2.8 0 1 0-5.6 0M1799.1 592.1m-2.8 0a2.8 2.8 0 1 0 5.6 0a2.8 2.8 0 1 0-5.6 0M1796.9 595.3m-2.8 0a2.8 2.8 0 1 0 5.6 0a2.8 2.8 0 1 0-5.6 0M1796 598.8m-2.8 0a2.8 2.8 0 1 0 5.6 0a2.8 2.8 0 1 0-5.6 0M1797.7 602.8m-2.8 0a2.8 2.8 0 1 0 5.6 0a2.8 2.8 0 1 0-5.6 0M1797 606.3m-2.8 0a2.8 2.8 0 1 0 5.6 0a2.8 2.8 0 1 0-5.6 0M1796.4 609.8m-2.8 0a2.8 2.8 0 1 0 5.6 0a2.8 2.8 0 1 0-5.6 0M1796 613.4m-2.8 0a2.8 2.8 0 1 0 5.6 0a2.8 2.8 0 1 0-5.6 0M1794.9 616.9m-2.8 0a2.8 2.8 0 1 0 5.6 0a2.8 2.8 0 1 0-5.6 0M1794.2 620.5m-2.8 0a2.8 2.8 0 1 0 5.6 0a2.8 2.8 0 1 0-5.6 0M1794.8 624.1m-2.8 0a2.8 2.8 0 1 0 5.6 0a2.8 2.8 0 1 0-5.6 0M1795.1 627.8m-2.8 0a2.8 2.8 0 1 0 5.6 0a2.8 2.8 0 1 0-5.6 0M1793.6 631.2m-2.8 0a2.8 2.8 0 1 0 5.6 0a2.8 2.8 0 1 0-5.6 0M1793.4 634.8m-2.8 0a2.8 2.8 0 1 0 5.6 0a2.8 2.8 0 1 0-5.6 0M1792.4 638.4m-2.8 0a2.8 2.8 0 1 0 5.6 0a2.8 2.8 0 1 0-5.6 0M1790.9 641.8m-2.8 0a2.8 2.8 0 1 0 5.6 0a2.8 2.8 0 1 0-5.6 0M1791.4 645.5m-2.8 0a2.8 2.8 0 1 0 5.6 0a2.8 2.8 0 1 0-5.6 0M1791.6 649.1m-2.8 0a2.8 2.8 0 1 0 5.6 0a2.8 2.8 0 1 0-5.6 0M1790.9 652.7m-2.8 0a2.8 2.8 0 1 0 5.6 0a2.8 2.8 0 1 0-5.6 0M1790.4 656.3m-2.8 0a2.8 2.8 0 1 0 5.6 0a2.8 2.8 0 1 0-5.6 0M1791.9 660m-2.8 0a2.8 2.8 0 1 0 5.6 0a2.8 2.8 0 1 0-5.6 0M1789.1 663.4m-2.8 0a2.8 2.8 0 1 0 5.6 0a2.8 2.8 0 1 0-5.6 0M1789.1 667m-2.8 0a2.8 2.8 0 1 0 5.6 0a2.8 2.8 0 1 0-5.6 0M1788.2 670.4m-2.8 0a2.8 2.8 0 1 0 5.6 0a2.8 2.8 0 1 0-5.6 0M1787.8 674m-2.8 0a2.8 2.8 0 1 0 5.6 0a2.8 2.8 0 1 0-5.6 0M1788.4 677.8m-2.8 0a2.8 2.8 0 1 0 5.6 0a2.8 2.8 0 1 0-5.6 0M1787.8 681.3m-2.8 0a2.8 2.8 0 1 0 5.6 0a2.8 2.8 0 1 0-5.6 0M1788 685m-2.8 0a2.8 2.8 0 1 0 5.6 0a2.8 2.8 0 1 0-5.6 0M1785.8 688.3m-2.8 0a2.8 2.8 0 1 0 5.6 0a2.8 2.8 0 1 0-5.6 0M1786.9 692.1m-2.8 0a2.8 2.8 0 1 0 5.6 0a2.8 2.8 0 1 0-5.6 0M1786.3 695.7m-2.8 0a2.8 2.8 0 1 0 5.6 0a2.8 2.8 0 1 0-5.6 0M1820.7 281.3m-2.8 0a2.8 2.8 0 1 0 5.6 0a2.8 2.8 0 1 0-5.6 0M1820.2 288.4m-2.8 0a2.8 2.8 0 1 0 5.6 0a2.8 2.8 0 1 0-5.6 0M1819.6 295.6m-2.8 0a2.8 2.8 0 1 0 5.6 0a2.8 2.8 0 1 0-5.6 0M1819.1 302.8m-2.8 0a2.8 2.8 0 1 0 5.6 0a2.8 2.8 0 1 0-5.6 0M1818.6 310m-2.8 0a2.8 2.8 0 1 0 5.6 0a2.8 2.8 0 1 0-5.6 0M1818.1 317.2m-2.8 0a2.8 2.8 0 1 0 5.6 0a2.8 2.8 0 1 0-5.6 0M1817.6 324.3m-2.8 0a2.8 2.8 0 1 0 5.6 0a2.8 2.8 0 1 0-5.6 0M1817.1 331.5m-2.8 0a2.8 2.8 0 1 0 5.6 0a2.8 2.8 0 1 0-5.6 0M1816.7 338.7m-2.8 0a2.8 2.8 0 1 0 5.6 0a2.8 2.8 0 1 0-5.6 0M1816.4 345.9m-2.8 0a2.8 2.8 0 1 0 5.6 0a2.8 2.8 0 1 0-5.6 0M1816.1 353.1m-2.8 0a2.8 2.8 0 1 0 5.6 0a2.8 2.8 0 1 0-5.6 0M1815.7 360.3m-2.8 0a2.8 2.8 0 1 0 5.6 0a2.8 2.8 0 1 0-5.6 0M1815.3 367.5m-2.8 0a2.8 2.8 0 1 0 5.6 0a2.8 2.8 0 1 0-5.6 0M1815 374.7m-2.8 0a2.8 2.8 0 1 0 5.6 0a2.8 2.8 0 1 0-5.6 0M1814.6 381.9m-2.8 0a2.8 2.8 0 1 0 5.6 0a2.8 2.8 0 1 0-5.6 0M1814.2 389.1m-2.8 0a2.8 2.8 0 1 0 5.6 0a2.8 2.8 0 1 0-5.6 0M1813.9 396.2m-2.8 0a2.8 2.8 0 1 0 5.6 0a2.8 2.8 0 1 0-5.6 0M1813.5 403.4m-2.8 0a2.8 2.8 0 1 0 5.6 0a2.8 2.8 0 1 0-5.6 0M1812.6 410.6m-2.8 0a2.8 2.8 0 1 0 5.6 0a2.8 2.8 0 1 0-5.6 0M1811.7 417.7m-2.8 0a2.8 2.8 0 1 0 5.6 0a2.8 2.8 0 1 0-5.6 0M1810.8 424.9m-2.8 0a2.8 2.8 0 1 0 5.6 0a2.8 2.8 0 1 0-5.6 0M1809.8 432m-2.8 0a2.8 2.8 0 1 0 5.6 0a2.8 2.8 0 1 0-5.6 0M1808.9 439.1m-2.8 0a2.8 2.8 0 1 0 5.6 0a2.8 2.8 0 1 0-5.6 0M1807.9 446.3m-2.8 0a2.8 2.8 0 1 0 5.6 0a2.8 2.8 0 1 0-5.6 0M1844.3 200.9m-2.8 0a2.8 2.8 0 1 0 5.6 0a2.8 2.8 0 1 0-5.6 0M1843 208.4m-2.8 0a2.8 2.8 0 1 0 5.6 0a2.8 2.8 0 1 0-5.6 0M1841.8 215.9m-2.8 0a2.8 2.8 0 1 0 5.6 0a2.8 2.8 0 1 0-5.6 0M1840.5 223.4m-2.8 0a2.8 2.8 0 1 0 5.6 0a2.8 2.8 0 1 0-5.6 0M1839.3 230.9m-2.8 0a2.8 2.8 0 1 0 5.6 0a2.8 2.8 0 1 0-5.6 0M1838.2 238.4m-2.8 0a2.8 2.8 0 1 0 5.6 0a2.8 2.8 0 1 0-5.6 0M1837.4 246m-2.8 0a2.8 2.8 0 1 0 5.6 0a2.8 2.8 0 1 0-5.6 0M1836.7 253.5m-2.8 0a2.8 2.8 0 1 0 5.6 0a2.8 2.8 0 1 0-5.6 0M1835.9 261.1m-2.8 0a2.8 2.8 0 1 0 5.6 0a2.8 2.8 0 1 0-5.6 0M1835.2 268.6m-2.8 0a2.8 2.8 0 1 0 5.6 0a2.8 2.8 0 1 0-5.6 0M1834.4 276.2m-2.8 0a2.8 2.8 0 1 0 5.6 0a2.8 2.8 0 1 0-5.6 0M1833.7 283.8m-2.8 0a2.8 2.8 0 1 0 5.6 0a2.8 2.8 0 1 0-5.6 0M1832.9 291.3m-2.8 0a2.8 2.8 0 1 0 5.6 0a2.8 2.8 0 1 0-5.6 0M1832.6 298.9m-2.8 0a2.8 2.8 0 1 0 5.6 0a2.8 2.8 0 1 0-5.6 0M1832.2 306.5m-2.8 0a2.8 2.8 0 1 0 5.6 0a2.8 2.8 0 1 0-5.6 0M1831.9 314.1m-2.8 0a2.8 2.8 0 1 0 5.6 0a2.8 2.8 0 1 0-5.6 0M1831.6 321.7m-2.8 0a2.8 2.8 0 1 0 5.6 0a2.8 2.8 0 1 0-5.6 0M1831.3 329.3m-2.8 0a2.8 2.8 0 1 0 5.6 0a2.8 2.8 0 1 0-5.6 0M1830.3 336.8m-2.8 0a2.8 2.8 0 1 0 5.6 0a2.8 2.8 0 1 0-5.6 0M1829.2 344.3m-2.8 0a2.8 2.8 0 1 0 5.6 0a2.8 2.8 0 1 0-5.6 0M1874.6 191.5m-2.8 0a2.8 2.8 0 1 0 5.6 0a2.8 2.8 0 1 0-5.6 0M1873.4 198.8m-2.8 0a2.8 2.8 0 1 0 5.6 0a2.8 2.8 0 1 0-5.6 0M1872.1 206.1m-2.8 0a2.8 2.8 0 1 0 5.6 0a2.8 2.8 0 1 0-5.6 0M1870.8 213.4m-2.8 0a2.8 2.8 0 1 0 5.6 0a2.8 2.8 0 1 0-5.6 0M1869.5 220.7m-2.8 0a2.8 2.8 0 1 0 5.6 0a2.8 2.8 0 1 0-5.6 0M1868.2 228m-2.8 0a2.8 2.8 0 1 0 5.6 0a2.8 2.8 0 1 0-5.6 0M1866.9 235.3m-2.8 0a2.8 2.8 0 1 0 5.6 0a2.8 2.8 0 1 0-5.6 0M1865.6 242.5m-2.8 0a2.8 2.8 0 1 0 5.6 0a2.8 2.8 0 1 0-5.6 0M1864.4 249.8m-2.8 0a2.8 2.8 0 1 0 5.6 0a2.8 2.8 0 1 0-5.6 0M1863.3 257.2m-2.8 0a2.8 2.8 0 1 0 5.6 0a2.8 2.8 0 1 0-5.6 0M1862.3 264.5m-2.8 0a2.8 2.8 0 1 0 5.6 0a2.8 2.8 0 1 0-5.6 0M1861.2 271.8m-2.8 0a2.8 2.8 0 1 0 5.6 0a2.8 2.8 0 1 0-5.6 0M1860.2 279.1m-2.8 0a2.8 2.8 0 1 0 5.6 0a2.8 2.8 0 1 0-5.6 0M1859.2 286.5m-2.8 0a2.8 2.8 0 1 0 5.6 0a2.8 2.8 0 1 0-5.6 0M1858.1 293.8m-2.8 0a2.8 2.8 0 1 0 5.6 0a2.8 2.8 0 1 0-5.6 0M1857.1 301.1m-2.8 0a2.8 2.8 0 1 0 5.6 0a2.8 2.8 0 1 0-5.6 0M1856.1 308.5m-2.8 0a2.8 2.8 0 1 0 5.6 0a2.8 2.8 0 1 0-5.6 0M1855 315.8m-2.8 0a2.8 2.8 0 1 0 5.6 0a2.8 2.8 0 1 0-5.6 0M1854 323.1m-2.8 0a2.8 2.8 0 1 0 5.6 0a2.8 2.8 0 1 0-5.6 0M1852.9 330.4m-2.8 0a2.8 2.8 0 1 0 5.6 0a2.8 2.8 0 1 0-5.6 0M1851.6 337.7m-2.8 0a2.8 2.8 0 1 0 5.6 0a2.8 2.8 0 1 0-5.6 0M1850.3 345m-2.8 0a2.8 2.8 0 1 0 5.6 0a2.8 2.8 0 1 0-5.6 0M1849 352.3m-2.8 0a2.8 2.8 0 1 0 5.6 0a2.8 2.8 0 1 0-5.6 0M1847.8 359.6m-2.8 0a2.8 2.8 0 1 0 5.6 0a2.8 2.8 0 1 0-5.6 0M1846.6 366.9m-2.8 0a2.8 2.8 0 1 0 5.6 0a2.8 2.8 0 1 0-5.6 0M1845.4 374.2m-2.8 0a2.8 2.8 0 1 0 5.6 0a2.8 2.8 0 1 0-5.6 0M1844.3 381.5m-2.8 0a2.8 2.8 0 1 0 5.6 0a2.8 2.8 0 1 0-5.6 0M1843.2 388.8m-2.8 0a2.8 2.8 0 1 0 5.6 0a2.8 2.8 0 1 0-5.6 0M1842.2 396.2m-2.8 0a2.8 2.8 0 1 0 5.6 0a2.8 2.8 0 1 0-5.6 0M1841.1 403.5m-2.8 0a2.8 2.8 0 1 0 5.6 0a2.8 2.8 0 1 0-5.6 0M1840.1 410.8m-2.8 0a2.8 2.8 0 1 0 5.6 0a2.8 2.8 0 1 0-5.6 0M1839 418.1m-2.8 0a2.8 2.8 0 1 0 5.6 0a2.8 2.8 0 1 0-5.6 0M1837.6 425.4m-2.8 0a2.8 2.8 0 1 0 5.6 0a2.8 2.8 0 1 0-5.6 0M1836 432.6m-2.8 0a2.8 2.8 0 1 0 5.6 0a2.8 2.8 0 1 0-5.6 0M1834.5 439.9m-2.8 0a2.8 2.8 0 1 0 5.6 0a2.8 2.8 0 1 0-5.6 0M1832.9 447.1m-2.8 0a2.8 2.8 0 1 0 5.6 0a2.8 2.8 0 1 0-5.6 0M1831.4 454.3m-2.8 0a2.8 2.8 0 1 0 5.6 0a2.8 2.8 0 1 0-5.6 0M1830 461.6m-2.8 0a2.8 2.8 0 1 0 5.6 0a2.8 2.8 0 1 0-5.6 0M1828.6 468.9m-2.8 0a2.8 2.8 0 1 0 5.6 0a2.8 2.8 0 1 0-5.6 0M1827.3 476.1m-2.8 0a2.8 2.8 0 1 0 5.6 0a2.8 2.8 0 1 0-5.6 0M1826 483.4m-2.8 0a2.8 2.8 0 1 0 5.6 0a2.8 2.8 0 1 0-5.6 0M1824.8 490.7m-2.8 0a2.8 2.8 0 1 0 5.6 0a2.8 2.8 0 1 0-5.6 0M1823.3 498m-2.8 0a2.8 2.8 0 1 0 5.6 0a2.8 2.8 0 1 0-5.6 0M1821.7 505.2m-2.8 0a2.8 2.8 0 1 0 5.6 0a2.8 2.8 0 1 0-5.6 0M1820.1 512.4m-2.8 0a2.8 2.8 0 1 0 5.6 0a2.8 2.8 0 1 0-5.6 0M1818.5 519.7m-2.8 0a2.8 2.8 0 1 0 5.6 0a2.8 2.8 0 1 0-5.6 0M1817 526.9m-2.8 0a2.8 2.8 0 1 0 5.6 0a2.8 2.8 0 1 0-5.6 0M1815.4 534.1m-2.8 0a2.8 2.8 0 1 0 5.6 0a2.8 2.8 0 1 0-5.6 0M1813.8 541.4m-2.8 0a2.8 2.8 0 1 0 5.6 0a2.8 2.8 0 1 0-5.6 0M1812.3 548.6m-2.8 0a2.8 2.8 0 1 0 5.6 0a2.8 2.8 0 1 0-5.6 0M1810.4 555.8m-2.8 0a2.8 2.8 0 1 0 5.6 0a2.8 2.8 0 1 0-5.6 0M1786.2 631.8m-2.8 0a2.8 2.8 0 1 0 5.6 0a2.8 2.8 0 1 0-5.6 0M1784.8 634.9m-2.8 0a2.8 2.8 0 1 0 5.6 0a2.8 2.8 0 1 0-5.6 0M1783.4 638m-2.8 0a2.8 2.8 0 1 0 5.6 0a2.8 2.8 0 1 0-5.6 0M1782 641.1m-2.8 0a2.8 2.8 0 1 0 5.6 0a2.8 2.8 0 1 0-5.6 0M1780.6 644.2m-2.8 0a2.8 2.8 0 1 0 5.6 0a2.8 2.8 0 1 0-5.6 0M1779.2 647.3m-2.8 0a2.8 2.8 0 1 0 5.6 0a2.8 2.8 0 1 0-5.6 0M1777.8 650.4m-2.8 0a2.8 2.8 0 1 0 5.6 0a2.8 2.8 0 1 0-5.6 0M1776.4 653.5m-2.8 0a2.8 2.8 0 1 0 5.6 0a2.8 2.8 0 1 0-5.6 0M1775 656.7m-2.8 0a2.8 2.8 0 1 0 5.6 0a2.8 2.8 0 1 0-5.6 0M1773.7 659.8m-2.8 0a2.8 2.8 0 1 0 5.6 0a2.8 2.8 0 1 0-5.6 0M1772.3 662.9m-2.8 0a2.8 2.8 0 1 0 5.6 0a2.8 2.8 0 1 0-5.6 0M1770.9 666m-2.8 0a2.8 2.8 0 1 0 5.6 0a2.8 2.8 0 1 0-5.6 0M1769.5 669.1m-2.8 0a2.8 2.8 0 1 0 5.6 0a2.8 2.8 0 1 0-5.6 0M1768.1 672.2m-2.8 0a2.8 2.8 0 1 0 5.6 0a2.8 2.8 0 1 0-5.6 0M1766.7 675.3m-2.8 0a2.8 2.8 0 1 0 5.6 0a2.8 2.8 0 1 0-5.6 0M1765.3 678.4m-2.8 0a2.8 2.8 0 1 0 5.6 0a2.8 2.8 0 1 0-5.6 0M1763.9 681.5m-2.8 0a2.8 2.8 0 1 0 5.6 0a2.8 2.8 0 1 0-5.6 0M1762.5 684.6m-2.8 0a2.8 2.8 0 1 0 5.6 0a2.8 2.8 0 1 0-5.6 0M1886 127.6m-2.8 0a2.8 2.8 0 1 0 5.6 0a2.8 2.8 0 1 0-5.6 0M1883.5 130.6m-2.8 0a2.8 2.8 0 1 0 5.6 0a2.8 2.8 0 1 0-5.6 0M1885.3 134.1m-2.8 0a2.8 2.8 0 1 0 5.6 0a2.8 2.8 0 1 0-5.6 0M1883.8 137.5m-2.8 0a2.8 2.8 0 1 0 5.6 0a2.8 2.8 0 1 0-5.6 0M1885 140.9m-2.8 0a2.8 2.8 0 1 0 5.6 0a2.8 2.8 0 1 0-5.6 0M1884.5 144.3m-2.8 0a2.8 2.8 0 1 0 5.6 0a2.8 2.8 0 1 0-5.6 0M1882.5 147.6m-2.8 0a2.8 2.8 0 1 0 5.6 0a2.8 2.8 0 1 0-5.6 0M1884.2 151.1m-2.8 0a2.8 2.8 0 1 0 5.6 0a2.8 2.8 0 1 0-5.6 0M1882.9 154.4m-2.8 0a2.8 2.8 0 1 0 5.6 0a2.8 2.8 0 1 0-5.6 0M1883.1 157.8m-2.8 0a2.8 2.8 0 1 0 5.6 0a2.8 2.8 0 1 0-5.6 0M1882.8 161.2m-2.8 0a2.8 2.8 0 1 0 5.6 0a2.8 2.8 0 1 0-5.6 0M1882.5 164.6m-2.8 0a2.8 2.8 0 1 0 5.6 0a2.8 2.8 0 1 0-5.6 0M1882.9 168.1m-2.8 0a2.8 2.8 0 1 0 5.6 0a2.8 2.8 0 1 0-5.6 0M1881.1 171.3m-2.8 0a2.8 2.8 0 1 0 5.6 0a2.8 2.8 0 1 0-5.6 0M1882.7 174.9m-2.8 0a2.8 2.8 0 1 0 5.6 0a2.8 2.8 0 1 0-5.6 0M1882 178.2m-2.8 0a2.8 2.8 0 1 0 5.6 0a2.8 2.8 0 1 0-5.6 0M1882.3 181.7m-2.8 0a2.8 2.8 0 1 0 5.6 0a2.8 2.8 0 1 0-5.6 0M1881.4 185m-2.8 0a2.8 2.8 0 1 0 5.6 0a2.8 2.8 0 1 0-5.6 0M1880.7 188.4m-2.8 0a2.8 2.8 0 1 0 5.6 0a2.8 2.8 0 1 0-5.6 0M1879.2 191.6m-2.8 0a2.8 2.8 0 1 0 5.6 0a2.8 2.8 0 1 0-5.6 0M1880.1 195.1m-2.8 0a2.8 2.8 0 1 0 5.6 0a2.8 2.8 0 1 0-5.6 0M1880.1 200.2m-2.8 0a2.8 2.8 0 1 0 5.6 0a2.8 2.8 0 1 0-5.6 0M1878.3 207.2m-2.8 0a2.8 2.8 0 1 0 5.6 0a2.8 2.8 0 1 0-5.6 0M1876.8 214.3m-2.8 0a2.8 2.8 0 1 0 5.6 0a2.8 2.8 0 1 0-5.6 0M1877.4 221.6m-2.8 0a2.8 2.8 0 1 0 5.6 0a2.8 2.8 0 1 0-5.6 0M1874.9 228.5m-2.8 0a2.8 2.8 0 1 0 5.6 0a2.8 2.8 0 1 0-5.6 0M1875.1 235.8m-2.8 0a2.8 2.8 0 1 0 5.6 0a2.8 2.8 0 1 0-5.6 0M1873.4 242.9m-2.8 0a2.8 2.8 0 1 0 5.6 0a2.8 2.8 0 1 0-5.6 0M1871.6 249.9m-2.8 0a2.8 2.8 0 1 0 5.6 0a2.8 2.8 0 1 0-5.6 0M1871.8 257.2m-2.8 0a2.8 2.8 0 1 0 5.6 0a2.8 2.8 0 1 0-5.6 0M1870.2 264.2m-2.8 0a2.8 2.8 0 1 0 5.6 0a2.8 2.8 0 1 0-5.6 0M1870.5 271.5m-2.8 0a2.8 2.8 0 1 0 5.6 0a2.8 2.8 0 1 0-5.6 0M1868 278.4m-2.8 0a2.8 2.8 0 1 0 5.6 0a2.8 2.8 0 1 0-5.6 0M1867.8 285.7m-2.8 0a2.8 2.8 0 1 0 5.6 0a2.8 2.8 0 1 0-5.6 0M1867.7 292.9m-2.8 0a2.8 2.8 0 1 0 5.6 0a2.8 2.8 0 1 0-5.6 0M1866.5 300m-2.8 0a2.8 2.8 0 1 0 5.6 0a2.8 2.8 0 1 0-5.6 0M1864.8 307.1m-2.8 0a2.8 2.8 0 1 0 5.6 0a2.8 2.8 0 1 0-5.6 0M1863.1 314.1m-2.8 0a2.8 2.8 0 1 0 5.6 0a2.8 2.8 0 1 0-5.6 0M1862.5 321.3m-2.8 0a2.8 2.8 0 1 0 5.6 0a2.8 2.8 0 1 0-5.6 0M1860.8 328.4m-2.8 0a2.8 2.8 0 1 0 5.6 0a2.8 2.8 0 1 0-5.6 0M1861.8 335.7m-2.8 0a2.8 2.8 0 1 0 5.6 0a2.8 2.8 0 1 0-5.6 0M1860.5 342.8m-2.8 0a2.8 2.8 0 1 0 5.6 0a2.8 2.8 0 1 0-5.6 0M1860.3 350.1m-2.8 0a2.8 2.8 0 1 0 5.6 0a2.8 2.8 0 1 0-5.6 0M1857.8 357m-2.8 0a2.8 2.8 0 1 0 5.6 0a2.8 2.8 0 1 0-5.6 0M1857 364.1m-2.8 0a2.8 2.8 0 1 0 5.6 0a2.8 2.8 0 1 0-5.6 0M1855.5 371.2m-2.8 0a2.8 2.8 0 1 0 5.6 0a2.8 2.8 0 1 0-5.6 0M1853.2 391.3m-2.8 0a2.8 2.8 0 1 0 5.6 0a2.8 2.8 0 1 0-5.6 0M1851.6 398.3m-2.8 0a2.8 2.8 0 1 0 5.6 0a2.8 2.8 0 1 0-5.6 0M1851.5 405.6m-2.8 0a2.8 2.8 0 1 0 5.6 0a2.8 2.8 0 1 0-5.6 0M1849.6 412.6m-2.8 0a2.8 2.8 0 1 0 5.6 0a2.8 2.8 0 1 0-5.6 0M1848.9 419.7m-2.8 0a2.8 2.8 0 1 0 5.6 0a2.8 2.8 0 1 0-5.6 0M1847.2 426.8m-2.8 0a2.8 2.8 0 1 0 5.6 0a2.8 2.8 0 1 0-5.6 0M1847.7 434.1m-2.8 0a2.8 2.8 0 1 0 5.6 0a2.8 2.8 0 1 0-5.6 0M1846.8 441.3m-2.8 0a2.8 2.8 0 1 0 5.6 0a2.8 2.8 0 1 0-5.6 0M1845.2 448.3m-2.8 0a2.8 2.8 0 1 0 5.6 0a2.8 2.8 0 1 0-5.6 0M1843.1 465.6m-2.8 0a2.8 2.8 0 1 0 5.6 0a2.8 2.8 0 1 0-5.6 0M1840.6 472.5m-2.8 0a2.8 2.8 0 1 0 5.6 0a2.8 2.8 0 1 0-5.6 0M1841.4 479.9m-2.8 0a2.8 2.8 0 1 0 5.6 0a2.8 2.8 0 1 0-5.6 0M1838.7 486.8m-2.8 0a2.8 2.8 0 1 0 5.6 0a2.8 2.8 0 1 0-5.6 0M1839 494.1m-2.8 0a2.8 2.8 0 1 0 5.6 0a2.8 2.8 0 1 0-5.6 0M1837.4 501.1m-2.8 0a2.8 2.8 0 1 0 5.6 0a2.8 2.8 0 1 0-5.6 0M1837 508.3m-2.8 0a2.8 2.8 0 1 0 5.6 0a2.8 2.8 0 1 0-5.6 0M1835.6 515.4m-2.8 0a2.8 2.8 0 1 0 5.6 0a2.8 2.8 0 1 0-5.6 0M1834.5 522.5m-2.8 0a2.8 2.8 0 1 0 5.6 0a2.8 2.8 0 1 0-5.6 0M1830.6 549.7m-2.8 0a2.8 2.8 0 1 0 5.6 0a2.8 2.8 0 1 0-5.6 0M1829.4 556.8m-2.8 0a2.8 2.8 0 1 0 5.6 0a2.8 2.8 0 1 0-5.6 0M1828.3 563.9m-2.8 0a2.8 2.8 0 1 0 5.6 0a2.8 2.8 0 1 0-5.6 0M1827.4 571m-2.8 0a2.8 2.8 0 1 0 5.6 0a2.8 2.8 0 1 0-5.6 0M1826.4 578.1m-2.8 0a2.8 2.8 0 1 0 5.6 0a2.8 2.8 0 1 0-5.6 0M1826.1 585.4m-2.8 0a2.8 2.8 0 1 0 5.6 0a2.8 2.8 0 1 0-5.6 0M1824 592.3m-2.8 0a2.8 2.8 0 1 0 5.6 0a2.8 2.8 0 1 0-5.6 0M1823.4 599.5m-2.8 0a2.8 2.8 0 1 0 5.6 0a2.8 2.8 0 1 0-5.6 0M1819 626.8m-2.8 0a2.8 2.8 0 1 0 5.6 0a2.8 2.8 0 1 0-5.6 0M1819.8 634.2m-2.8 0a2.8 2.8 0 1 0 5.6 0a2.8 2.8 0 1 0-5.6 0M1817.2 641.1m-2.8 0a2.8 2.8 0 1 0 5.6 0a2.8 2.8 0 1 0-5.6 0M1817.1 648.3m-2.8 0a2.8 2.8 0 1 0 5.6 0a2.8 2.8 0 1 0-5.6 0M1816.6 655.5m-2.8 0a2.8 2.8 0 1 0 5.6 0a2.8 2.8 0 1 0-5.6 0M1815 662.6m-2.8 0a2.8 2.8 0 1 0 5.6 0a2.8 2.8 0 1 0-5.6 0M1813.4 669.6m-2.8 0a2.8 2.8 0 1 0 5.6 0a2.8 2.8 0 1 0-5.6 0M1812.4 676.8m-2.8 0a2.8 2.8 0 1 0 5.6 0a2.8 2.8 0 1 0-5.6 0M1812.9 684.1m-2.8 0a2.8 2.8 0 1 0 5.6 0a2.8 2.8 0 1 0-5.6 0M1811.6 691.4m-2.8 0a2.8 2.8 0 1 0 5.6 0a2.8 2.8 0 1 0-5.6 0M1811.3 694m-2.8 0a2.8 2.8 0 1 0 5.6 0a2.8 2.8 0 1 0-5.6 0M1811 696.5m-2.8 0a2.8 2.8 0 1 0 5.6 0a2.8 2.8 0 1 0-5.6 0M1810.7 699.1m-2.8 0a2.8 2.8 0 1 0 5.6 0a2.8 2.8 0 1 0-5.6 0M1810.4 701.7m-2.8 0a2.8 2.8 0 1 0 5.6 0a2.8 2.8 0 1 0-5.6 0M1810.1 704.3m-2.8 0a2.8 2.8 0 1 0 5.6 0a2.8 2.8 0 1 0-5.6 0M1882.7 222.1m-2.8 0a2.8 2.8 0 1 0 5.6 0a2.8 2.8 0 1 0-5.6 0M1881.5 229.3m-2.8 0a2.8 2.8 0 1 0 5.6 0a2.8 2.8 0 1 0-5.6 0M1880.3 236.5m-2.8 0a2.8 2.8 0 1 0 5.6 0a2.8 2.8 0 1 0-5.6 0M1879.2 243.7m-2.8 0a2.8 2.8 0 1 0 5.6 0a2.8 2.8 0 1 0-5.6 0M1878.3 251m-2.8 0a2.8 2.8 0 1 0 5.6 0a2.8 2.8 0 1 0-5.6 0M1877.4 258.2m-2.8 0a2.8 2.8 0 1 0 5.6 0a2.8 2.8 0 1 0-5.6 0M1876.4 265.4m-2.8 0a2.8 2.8 0 1 0 5.6 0a2.8 2.8 0 1 0-5.6 0M1875.5 272.7m-2.8 0a2.8 2.8 0 1 0 5.6 0a2.8 2.8 0 1 0-5.6 0M1874.5 279.9m-2.8 0a2.8 2.8 0 1 0 5.6 0a2.8 2.8 0 1 0-5.6 0M1873.6 287.2m-2.8 0a2.8 2.8 0 1 0 5.6 0a2.8 2.8 0 1 0-5.6 0M1872.6 294.4m-2.8 0a2.8 2.8 0 1 0 5.6 0a2.8 2.8 0 1 0-5.6 0M1871.6 301.6m-2.8 0a2.8 2.8 0 1 0 5.6 0a2.8 2.8 0 1 0-5.6 0M1870.5 308.8m-2.8 0a2.8 2.8 0 1 0 5.6 0a2.8 2.8 0 1 0-5.6 0M1869.5 316.1m-2.8 0a2.8 2.8 0 1 0 5.6 0a2.8 2.8 0 1 0-5.6 0M1868.4 323.3m-2.8 0a2.8 2.8 0 1 0 5.6 0a2.8 2.8 0 1 0-5.6 0M1867.5 330.5m-2.8 0a2.8 2.8 0 1 0 5.6 0a2.8 2.8 0 1 0-5.6 0M1866.8 337.8m-2.8 0a2.8 2.8 0 1 0 5.6 0a2.8 2.8 0 1 0-5.6 0M1866.1 345.1m-2.8 0a2.8 2.8 0 1 0 5.6 0a2.8 2.8 0 1 0-5.6 0M546.8 1408.5m-2.8 0a2.8 2.8 0 1 0 5.6 0a2.8 2.8 0 1 0-5.6 0M554.1 1407.2m-2.8 0a2.8 2.8 0 1 0 5.6 0a2.8 2.8 0 1 0-5.6 0M561.4 1405.6m-2.8 0a2.8 2.8 0 1 0 5.6 0a2.8 2.8 0 1 0-5.6 0M583.3 1403.2m-2.8 0a2.8 2.8 0 1 0 5.6 0a2.8 2.8 0 1 0-5.6 0M590.9 1402.1m-2.8 0a2.8 2.8 0 1 0 5.6 0a2.8 2.8 0 1 0-5.6 0M598.3 1401.1m-2.8 0a2.8 2.8 0 1 0 5.6 0a2.8 2.8 0 1 0-5.6 0M605.9 1400.4m-2.8 0a2.8 2.8 0 1 0 5.6 0a2.8 2.8 0 1 0-5.6 0M613.5 1399.6m-2.8 0a2.8 2.8 0 1 0 5.6 0a2.8 2.8 0 1 0-5.6 0M621 1399.1m-2.8 0a2.8 2.8 0 1 0 5.6 0a2.8 2.8 0 1 0-5.6 0M628.6 1398.3m-2.8 0a2.8 2.8 0 1 0 5.6 0a2.8 2.8 0 1 0-5.6 0M635.9 1397.8m-2.8 0a2.8 2.8 0 1 0 5.6 0a2.8 2.8 0 1 0-5.6 0M643.2 1397m-2.8 0a2.8 2.8 0 1 0 5.6 0a2.8 2.8 0 1 0-5.6 0M650.8 1396.4m-2.8 0a2.8 2.8 0 1 0 5.6 0a2.8 2.8 0 1 0-5.6 0M671.8 1394.8m-2.8 0a2.8 2.8 0 1 0 5.6 0a2.8 2.8 0 1 0-5.6 0M678.8 1394m-2.8 0a2.8 2.8 0 1 0 5.6 0a2.8 2.8 0 1 0-5.6 0M686.1 1393.3m-2.8 0a2.8 2.8 0 1 0 5.6 0a2.8 2.8 0 1 0-5.6 0M693 1392.7m-2.8 0a2.8 2.8 0 1 0 5.6 0a2.8 2.8 0 1 0-5.6 0M700.2 1391.9m-2.8 0a2.8 2.8 0 1 0 5.6 0a2.8 2.8 0 1 0-5.6 0M707.1 1391.4m-2.8 0a2.8 2.8 0 1 0 5.6 0a2.8 2.8 0 1 0-5.6 0M713.9 1390.9m-2.8 0a2.8 2.8 0 1 0 5.6 0a2.8 2.8 0 1 0-5.6 0M720.6 1390.6m-2.8 0a2.8 2.8 0 1 0 5.6 0a2.8 2.8 0 1 0-5.6 0M733.8 1389.8m-2.8 0a2.8 2.8 0 1 0 5.6 0a2.8 2.8 0 1 0-5.6 0M597.8 1539.2m-2.8 0a2.8 2.8 0 1 0 5.6 0a2.8 2.8 0 1 0-5.6 0M605.9 1537.9m-2.8 0a2.8 2.8 0 1 0 5.6 0a2.8 2.8 0 1 0-5.6 0M613.5 1536.3m-2.8 0a2.8 2.8 0 1 0 5.6 0a2.8 2.8 0 1 0-5.6 0M621 1534.7m-2.8 0a2.8 2.8 0 1 0 5.6 0a2.8 2.8 0 1 0-5.6 0M628.3 1533.1m-2.8 0a2.8 2.8 0 1 0 5.6 0a2.8 2.8 0 1 0-5.6 0M635.9 1531.4m-2.8 0a2.8 2.8 0 1 0 5.6 0a2.8 2.8 0 1 0-5.6 0M643.2 1530m-2.8 0a2.8 2.8 0 1 0 5.6 0a2.8 2.8 0 1 0-5.6 0M650.8 1529m-2.8 0a2.8 2.8 0 1 0 5.6 0a2.8 2.8 0 1 0-5.6 0M658.2 1527.1m-2.8 0a2.8 2.8 0 1 0 5.6 0a2.8 2.8 0 1 0-5.6 0M665.5 1525.8m-2.8 0a2.8 2.8 0 1 0 5.6 0a2.8 2.8 0 1 0-5.6 0M686.9 1521.4m-2.8 0a2.8 2.8 0 1 0 5.6 0a2.8 2.8 0 1 0-5.6 0M694.5 1520.1m-2.8 0a2.8 2.8 0 1 0 5.6 0a2.8 2.8 0 1 0-5.6 0M701.8 1518.6m-2.8 0a2.8 2.8 0 1 0 5.6 0a2.8 2.8 0 1 0-5.6 0M709.1 1517m-2.8 0a2.8 2.8 0 1 0 5.6 0a2.8 2.8 0 1 0-5.6 0M716.3 1515.7m-2.8 0a2.8 2.8 0 1 0 5.6 0a2.8 2.8 0 1 0-5.6 0M723.6 1514.1m-2.8 0a2.8 2.8 0 1 0 5.6 0a2.8 2.8 0 1 0-5.6 0M730.6 1512.8m-2.8 0a2.8 2.8 0 1 0 5.6 0a2.8 2.8 0 1 0-5.6 0M737.6 1511.4m-2.8 0a2.8 2.8 0 1 0 5.6 0a2.8 2.8 0 1 0-5.6 0M744.8 1509.7m-2.8 0a2.8 2.8 0 1 0 5.6 0a2.8 2.8 0 1 0-5.6 0M596.7 1557m-2.8 0a2.8 2.8 0 1 0 5.6 0a2.8 2.8 0 1 0-5.6 0M604.3 1555.4m-2.8 0a2.8 2.8 0 1 0 5.6 0a2.8 2.8 0 1 0-5.6 0M611.6 1553.8m-2.8 0a2.8 2.8 0 1 0 5.6 0a2.8 2.8 0 1 0-5.6 0M618.9 1552.6m-2.8 0a2.8 2.8 0 1 0 5.6 0a2.8 2.8 0 1 0-5.6 0M626.5 1550.5m-2.8 0a2.8 2.8 0 1 0 5.6 0a2.8 2.8 0 1 0-5.6 0M633.9 1549.2m-2.8 0a2.8 2.8 0 1 0 5.6 0a2.8 2.8 0 1 0-5.6 0M641.2 1548.1m-2.8 0a2.8 2.8 0 1 0 5.6 0a2.8 2.8 0 1 0-5.6 0M648.5 1546.5m-2.8 0a2.8 2.8 0 1 0 5.6 0a2.8 2.8 0 1 0-5.6 0M655.8 1545.2m-2.8 0a2.8 2.8 0 1 0 5.6 0a2.8 2.8 0 1 0-5.6 0M663.1 1543.7m-2.8 0a2.8 2.8 0 1 0 5.6 0a2.8 2.8 0 1 0-5.6 0M670.2 1542.4m-2.8 0a2.8 2.8 0 1 0 5.6 0a2.8 2.8 0 1 0-5.6 0M677.5 1540.5m-2.8 0a2.8 2.8 0 1 0 5.6 0a2.8 2.8 0 1 0-5.6 0M684.8 1539.5m-2.8 0a2.8 2.8 0 1 0 5.6 0a2.8 2.8 0 1 0-5.6 0M692.1 1537.9m-2.8 0a2.8 2.8 0 1 0 5.6 0a2.8 2.8 0 1 0-5.6 0M620.5 1559.8m-2.8 0a2.8 2.8 0 1 0 5.6 0a2.8 2.8 0 1 0-5.6 0M628.1 1558.3m-2.8 0a2.8 2.8 0 1 0 5.6 0a2.8 2.8 0 1 0-5.6 0M635.6 1557m-2.8 0a2.8 2.8 0 1 0 5.6 0a2.8 2.8 0 1 0-5.6 0M642.8 1555.7m-2.8 0a2.8 2.8 0 1 0 5.6 0a2.8 2.8 0 1 0-5.6 0M650.4 1554.3m-2.8 0a2.8 2.8 0 1 0 5.6 0a2.8 2.8 0 1 0-5.6 0M671.8 1549.7m-2.8 0a2.8 2.8 0 1 0 5.6 0a2.8 2.8 0 1 0-5.6 0M678.8 1548.6m-2.8 0a2.8 2.8 0 1 0 5.6 0a2.8 2.8 0 1 0-5.6 0M686.1 1547.3m-2.8 0a2.8 2.8 0 1 0 5.6 0a2.8 2.8 0 1 0-5.6 0M693 1546.2m-2.8 0a2.8 2.8 0 1 0 5.6 0a2.8 2.8 0 1 0-5.6 0M700.2 1544.9m-2.8 0a2.8 2.8 0 1 0 5.6 0a2.8 2.8 0 1 0-5.6 0M707.1 1543.6m-2.8 0a2.8 2.8 0 1 0 5.6 0a2.8 2.8 0 1 0-5.6 0M714.4 1541.6m-2.8 0a2.8 2.8 0 1 0 5.6 0a2.8 2.8 0 1 0-5.6 0M721.2 1540.3m-2.8 0a2.8 2.8 0 1 0 5.6 0a2.8 2.8 0 1 0-5.6 0M728.2 1539.2m-2.8 0a2.8 2.8 0 1 0 5.6 0a2.8 2.8 0 1 0-5.6 0M735.5 1537.9m-2.8 0a2.8 2.8 0 1 0 5.6 0a2.8 2.8 0 1 0-5.6 0M742.4 1536.3m-2.8 0a2.8 2.8 0 1 0 5.6 0a2.8 2.8 0 1 0-5.6 0M706 1535.2m-2.8 0a2.8 2.8 0 1 0 5.6 0a2.8 2.8 0 1 0-5.6 0M713.1 1533.9m-2.8 0a2.8 2.8 0 1 0 5.6 0a2.8 2.8 0 1 0-5.6 0M720.1 1532.4m-2.8 0a2.8 2.8 0 1 0 5.6 0a2.8 2.8 0 1 0-5.6 0M727 1531.1m-2.8 0a2.8 2.8 0 1 0 5.6 0a2.8 2.8 0 1 0-5.6 0M734.3 1529.8m-2.8 0a2.8 2.8 0 1 0 5.6 0a2.8 2.8 0 1 0-5.6 0M741.1 1528.2m-2.8 0a2.8 2.8 0 1 0 5.6 0a2.8 2.8 0 1 0-5.6 0M748.1 1526.7m-2.8 0a2.8 2.8 0 1 0 5.6 0a2.8 2.8 0 1 0-5.6 0M697.4 1484.2m-2.8 0a2.8 2.8 0 1 0 5.6 0a2.8 2.8 0 1 0-5.6 0M703.9 1480.6m-2.8 0a2.8 2.8 0 1 0 5.6 0a2.8 2.8 0 1 0-5.6 0M709.5 1477.2m-2.8 0a2.8 2.8 0 1 0 5.6 0a2.8 2.8 0 1 0-5.6 0M715.7 1474.1m-2.8 0a2.8 2.8 0 1 0 5.6 0a2.8 2.8 0 1 0-5.6 0M727.4 1468.3m-2.8 0a2.8 2.8 0 1 0 5.6 0a2.8 2.8 0 1 0-5.6 0M733.3 1465.9m-2.8 0a2.8 2.8 0 1 0 5.6 0a2.8 2.8 0 1 0-5.6 0M739.2 1462.8m-2.8 0a2.8 2.8 0 1 0 5.6 0a2.8 2.8 0 1 0-5.6 0M745.2 1460.2m-2.8 0a2.8 2.8 0 1 0 5.6 0a2.8 2.8 0 1 0-5.6 0M749.2 1480.6m-2.8 0a2.8 2.8 0 1 0 5.6 0a2.8 2.8 0 1 0-5.6 0M753.3 1389m-2.8 0a2.8 2.8 0 1 0 5.6 0a2.8 2.8 0 1 0-5.6 0M759.6 1389.4m-2.8 0a2.8 2.8 0 1 0 5.6 0a2.8 2.8 0 1 0-5.6 0M766.1 1389.6m-2.8 0a2.8 2.8 0 1 0 5.6 0a2.8 2.8 0 1 0-5.6 0M772.4 1390m-2.8 0a2.8 2.8 0 1 0 5.6 0a2.8 2.8 0 1 0-5.6 0M778.7 1390.4m-2.8 0a2.8 2.8 0 1 0 5.6 0a2.8 2.8 0 1 0-5.6 0M785.1 1390.6m-2.8 0a2.8 2.8 0 1 0 5.6 0a2.8 2.8 0 1 0-5.6 0M791.4 1391.3m-2.8 0a2.8 2.8 0 1 0 5.6 0a2.8 2.8 0 1 0-5.6 0M797.1 1391.9m-2.8 0a2.8 2.8 0 1 0 5.6 0a2.8 2.8 0 1 0-5.6 0M798.1 1443.3m-2.8 0a2.8 2.8 0 1 0 5.6 0a2.8 2.8 0 1 0-5.6 0M794.3 1444.3m-2.8 0a2.8 2.8 0 1 0 5.6 0a2.8 2.8 0 1 0-5.6 0M784.8 1446.2m-2.8 0a2.8 2.8 0 1 0 5.6 0a2.8 2.8 0 1 0-5.6 0M779 1447.7m-2.8 0a2.8 2.8 0 1 0 5.6 0a2.8 2.8 0 1 0-5.6 0M773.3 1449.6m-2.8 0a2.8 2.8 0 1 0 5.6 0a2.8 2.8 0 1 0-5.6 0M767.6 1451.5m-2.8 0a2.8 2.8 0 1 0 5.6 0a2.8 2.8 0 1 0-5.6 0M761.9 1453.4m-2.8 0a2.8 2.8 0 1 0 5.6 0a2.8 2.8 0 1 0-5.6 0M756.2 1455.7m-2.8 0a2.8 2.8 0 1 0 5.6 0a2.8 2.8 0 1 0-5.6 0M750.5 1457.6m-2.8 0a2.8 2.8 0 1 0 5.6 0a2.8 2.8 0 1 0-5.6 0M744.8 1460.1m-2.8 0a2.8 2.8 0 1 0 5.6 0a2.8 2.8 0 1 0-5.6 0M739 1462.8m-2.8 0a2.8 2.8 0 1 0 5.6 0a2.8 2.8 0 1 0-5.6 0M733.3 1465.2m-2.8 0a2.8 2.8 0 1 0 5.6 0a2.8 2.8 0 1 0-5.6 0M727.6 1468.1m-2.8 0a2.8 2.8 0 1 0 5.6 0a2.8 2.8 0 1 0-5.6 0M716.2 1474.4m-2.8 0a2.8 2.8 0 1 0 5.6 0a2.8 2.8 0 1 0-5.6 0M709.5 1477.6m-2.8 0a2.8 2.8 0 1 0 5.6 0a2.8 2.8 0 1 0-5.6 0M703.8 1480.5m-2.8 0a2.8 2.8 0 1 0 5.6 0a2.8 2.8 0 1 0-5.6 0M780 1471m-2.8 0a2.8 2.8 0 1 0 5.6 0a2.8 2.8 0 1 0-5.6 0M786.7 1468.7m-2.8 0a2.8 2.8 0 1 0 5.6 0a2.8 2.8 0 1 0-5.6 0M793.3 1466.8m-2.8 0a2.8 2.8 0 1 0 5.6 0a2.8 2.8 0 1 0-5.6 0M800.6 1464.3m-2.8 0a2.8 2.8 0 1 0 5.6 0a2.8 2.8 0 1 0-5.6 0M750.5 1480.1m-2.8 0a2.8 2.8 0 1 0 5.6 0a2.8 2.8 0 1 0-5.6 0M758.1 1478.2m-2.8 0a2.8 2.8 0 1 0 5.6 0a2.8 2.8 0 1 0-5.6 0M823.8 1487.5m-2.8 0a2.8 2.8 0 1 0 5.6 0a2.8 2.8 0 1 0-5.6 0M831.4 1485.8m-2.8 0a2.8 2.8 0 1 0 5.6 0a2.8 2.8 0 1 0-5.6 0M839 1484.5m-2.8 0a2.8 2.8 0 1 0 5.6 0a2.8 2.8 0 1 0-5.6 0M845.7 1483.7m-2.8 0a2.8 2.8 0 1 0 5.6 0a2.8 2.8 0 1 0-5.6 0M848.6 1488.5m-2.8 0a2.8 2.8 0 1 0 5.6 0a2.8 2.8 0 1 0-5.6 0M853.3 1487.7m-2.8 0a2.8 2.8 0 1 0 5.6 0a2.8 2.8 0 1 0-5.6 0M859 1486.6m-2.8 0a2.8 2.8 0 1 0 5.6 0a2.8 2.8 0 1 0-5.6 0M864.8 1485.8m-2.8 0a2.8 2.8 0 1 0 5.6 0a2.8 2.8 0 1 0-5.6 0M791.4 1500.5m-2.8 0a2.8 2.8 0 1 0 5.6 0a2.8 2.8 0 1 0-5.6 0M798.1 1499m-2.8 0a2.8 2.8 0 1 0 5.6 0a2.8 2.8 0 1 0-5.6 0M804.8 1497.6m-2.8 0a2.8 2.8 0 1 0 5.6 0a2.8 2.8 0 1 0-5.6 0M811.4 1496.1m-2.8 0a2.8 2.8 0 1 0 5.6 0a2.8 2.8 0 1 0-5.6 0M817.5 1494.8m-2.8 0a2.8 2.8 0 1 0 5.6 0a2.8 2.8 0 1 0-5.6 0M823.8 1493.8m-2.8 0a2.8 2.8 0 1 0 5.6 0a2.8 2.8 0 1 0-5.6 0M830.1 1492.3m-2.8 0a2.8 2.8 0 1 0 5.6 0a2.8 2.8 0 1 0-5.6 0M836.2 1491.3m-2.8 0a2.8 2.8 0 1 0 5.6 0a2.8 2.8 0 1 0-5.6 0M842.5 1490m-2.8 0a2.8 2.8 0 1 0 5.6 0a2.8 2.8 0 1 0-5.6 0M708.6 1517m-2.8 0a2.8 2.8 0 1 0 5.6 0a2.8 2.8 0 1 0-5.6 0M715.8 1515.7m-2.8 0a2.8 2.8 0 1 0 5.6 0a2.8 2.8 0 1 0-5.6 0M722.9 1514.2m-2.8 0a2.8 2.8 0 1 0 5.6 0a2.8 2.8 0 1 0-5.6 0M730.1 1512.9m-2.8 0a2.8 2.8 0 1 0 5.6 0a2.8 2.8 0 1 0-5.6 0M737.1 1511.3m-2.8 0a2.8 2.8 0 1 0 5.6 0a2.8 2.8 0 1 0-5.6 0M744.2 1510m-2.8 0a2.8 2.8 0 1 0 5.6 0a2.8 2.8 0 1 0-5.6 0M751 1508.7m-2.8 0a2.8 2.8 0 1 0 5.6 0a2.8 2.8 0 1 0-5.6 0M758.1 1507.1m-2.8 0a2.8 2.8 0 1 0 5.6 0a2.8 2.8 0 1 0-5.6 0M764.8 1505.8m-2.8 0a2.8 2.8 0 1 0 5.6 0a2.8 2.8 0 1 0-5.6 0M772 1504.7m-2.8 0a2.8 2.8 0 1 0 5.6 0a2.8 2.8 0 1 0-5.6 0M792.4 1510m-2.8 0a2.8 2.8 0 1 0 5.6 0a2.8 2.8 0 1 0-5.6 0M800 1508.5m-2.8 0a2.8 2.8 0 1 0 5.6 0a2.8 2.8 0 1 0-5.6 0M807.2 1506.8m-2.8 0a2.8 2.8 0 1 0 5.6 0a2.8 2.8 0 1 0-5.6 0M814.9 1505.6m-2.8 0a2.8 2.8 0 1 0 5.6 0a2.8 2.8 0 1 0-5.6 0M821.9 1503.9m-2.8 0a2.8 2.8 0 1 0 5.6 0a2.8 2.8 0 1 0-5.6 0M805.3 1515.1m-2.8 0a2.8 2.8 0 1 0 5.6 0a2.8 2.8 0 1 0-5.6 0M811.4 1513.8m-2.8 0a2.8 2.8 0 1 0 5.6 0a2.8 2.8 0 1 0-5.6 0M818.1 1512.3m-2.8 0a2.8 2.8 0 1 0 5.6 0a2.8 2.8 0 1 0-5.6 0M824.4 1511.3m-2.8 0a2.8 2.8 0 1 0 5.6 0a2.8 2.8 0 1 0-5.6 0M830.5 1510.4m-2.8 0a2.8 2.8 0 1 0 5.6 0a2.8 2.8 0 1 0-5.6 0M836.2 1509m-2.8 0a2.8 2.8 0 1 0 5.6 0a2.8 2.8 0 1 0-5.6 0M841.9 1507.9m-2.8 0a2.8 2.8 0 1 0 5.6 0a2.8 2.8 0 1 0-5.6 0M846.7 1506.8m-2.8 0a2.8 2.8 0 1 0 5.6 0a2.8 2.8 0 1 0-5.6 0M713 1533.8m-2.8 0a2.8 2.8 0 1 0 5.6 0a2.8 2.8 0 1 0-5.6 0M720 1532.3m-2.8 0a2.8 2.8 0 1 0 5.6 0a2.8 2.8 0 1 0-5.6 0M727 1531m-2.8 0a2.8 2.8 0 1 0 5.6 0a2.8 2.8 0 1 0-5.6 0M733.9 1529.6m-2.8 0a2.8 2.8 0 1 0 5.6 0a2.8 2.8 0 1 0-5.6 0M741 1528.5m-2.8 0a2.8 2.8 0 1 0 5.6 0a2.8 2.8 0 1 0-5.6 0M747.6 1527.1m-2.8 0a2.8 2.8 0 1 0 5.6 0a2.8 2.8 0 1 0-5.6 0M754.3 1525.4m-2.8 0a2.8 2.8 0 1 0 5.6 0a2.8 2.8 0 1 0-5.6 0M761 1523.9m-2.8 0a2.8 2.8 0 1 0 5.6 0a2.8 2.8 0 1 0-5.6 0M767.6 1522.8m-2.8 0a2.8 2.8 0 1 0 5.6 0a2.8 2.8 0 1 0-5.6 0M774.3 1521.4m-2.8 0a2.8 2.8 0 1 0 5.6 0a2.8 2.8 0 1 0-5.6 0M781 1520.1m-2.8 0a2.8 2.8 0 1 0 5.6 0a2.8 2.8 0 1 0-5.6 0M787.2 1519m-2.8 0a2.8 2.8 0 1 0 5.6 0a2.8 2.8 0 1 0-5.6 0M793.3 1517.6m-2.8 0a2.8 2.8 0 1 0 5.6 0a2.8 2.8 0 1 0-5.6 0M775.2 1530m-2.8 0a2.8 2.8 0 1 0 5.6 0a2.8 2.8 0 1 0-5.6 0M781.9 1528.5m-2.8 0a2.8 2.8 0 1 0 5.6 0a2.8 2.8 0 1 0-5.6 0M788.2 1527.1m-2.8 0a2.8 2.8 0 1 0 5.6 0a2.8 2.8 0 1 0-5.6 0M794.7 1525.8m-2.8 0a2.8 2.8 0 1 0 5.6 0a2.8 2.8 0 1 0-5.6 0M801 1524.3m-2.8 0a2.8 2.8 0 1 0 5.6 0a2.8 2.8 0 1 0-5.6 0M807 1523m-2.8 0a2.8 2.8 0 1 0 5.6 0a2.8 2.8 0 1 0-5.6 0M813.3 1521.8m-2.8 0a2.8 2.8 0 1 0 5.6 0a2.8 2.8 0 1 0-5.6 0M819 1520.5m-2.8 0a2.8 2.8 0 1 0 5.6 0a2.8 2.8 0 1 0-5.6 0M824.8 1519.1m-2.8 0a2.8 2.8 0 1 0 5.6 0a2.8 2.8 0 1 0-5.6 0M830.9 1518m-2.8 0a2.8 2.8 0 1 0 5.6 0a2.8 2.8 0 1 0-5.6 0M836.6 1517m-2.8 0a2.8 2.8 0 1 0 5.6 0a2.8 2.8 0 1 0-5.6 0M842.3 1516.3m-2.8 0a2.8 2.8 0 1 0 5.6 0a2.8 2.8 0 1 0-5.6 0M847.6 1515.7m-2.8 0a2.8 2.8 0 1 0 5.6 0a2.8 2.8 0 1 0-5.6 0M721 1540.5m-2.8 0a2.8 2.8 0 1 0 5.6 0a2.8 2.8 0 1 0-5.6 0M728 1539.1m-2.8 0a2.8 2.8 0 1 0 5.6 0a2.8 2.8 0 1 0-5.6 0M734.9 1537.6m-2.8 0a2.8 2.8 0 1 0 5.6 0a2.8 2.8 0 1 0-5.6 0M741.5 1536.3m-2.8 0a2.8 2.8 0 1 0 5.6 0a2.8 2.8 0 1 0-5.6 0M748.6 1535m-2.8 0a2.8 2.8 0 1 0 5.6 0a2.8 2.8 0 1 0-5.6 0M755.2 1533.4m-2.8 0a2.8 2.8 0 1 0 5.6 0a2.8 2.8 0 1 0-5.6 0"/>
</g>
<path d="M1764 1332h39 M1783.5 1312.5v39 M1769.7 1318.2l27.6 27.6 M1769.7 1345.8l27.6 -27.6" stroke="#ff0000" stroke-width="3.9" fill="none"/>
<path d="M1699 1371.8h39 M1718.5 1352.3v39 M1704.7 1358l27.6 27.6 M1704.7 1385.6l27.6 -27.6" stroke="#0000ff" stroke-width="3.9" fill="none"/>
<rect x="304" y="51.2" width="1414" height="237.4" fill="#fff" stroke="#262626" stroke-width="3.9"/>
<path d="M398.6 96h39 M418.1 76.5v39 M404.3 82.2l27.6 27.6 M404.3 109.8l27.6 -27.6" stroke="#ff0000" stroke-width="3.9" fill="none"/>
<path d="M398.6 170.3h39 M418.1 150.8v39 M404.3 156.5l27.6 27.6 M404.3 184.1l27.6 -27.6" stroke="#0000ff" stroke-width="3.9" fill="none"/>
<path d="M322.8 243.6 H514.3" stroke="#ff0000" stroke-width="3.7" stroke-dasharray="48.2 27.9" fill="none"/>
<path d="M1108 96.4 H1300" stroke="#808080" stroke-width="12.9" fill="none"/>
<circle cx="1204.1" cy="170.2" r="3.1" fill="#0000ff"/>
<g font-family="'Liberation Sans', sans-serif" font-size="57" fill="#000" style="white-space:pre;font-kerning:none">
<text x="527.7" y="118">Reference Antenna</text>
<text x="527.7" y="191.8">Surveillance Antenna</text>
<text x="527.7" y="265.3">Illuminator direction</text>
<text x="1314.5" y="118">UAV&#160; trajectory</text>
<text x="1314.5" y="191.8">Detected Point</text>
</g>
</svg>
</body></html>
